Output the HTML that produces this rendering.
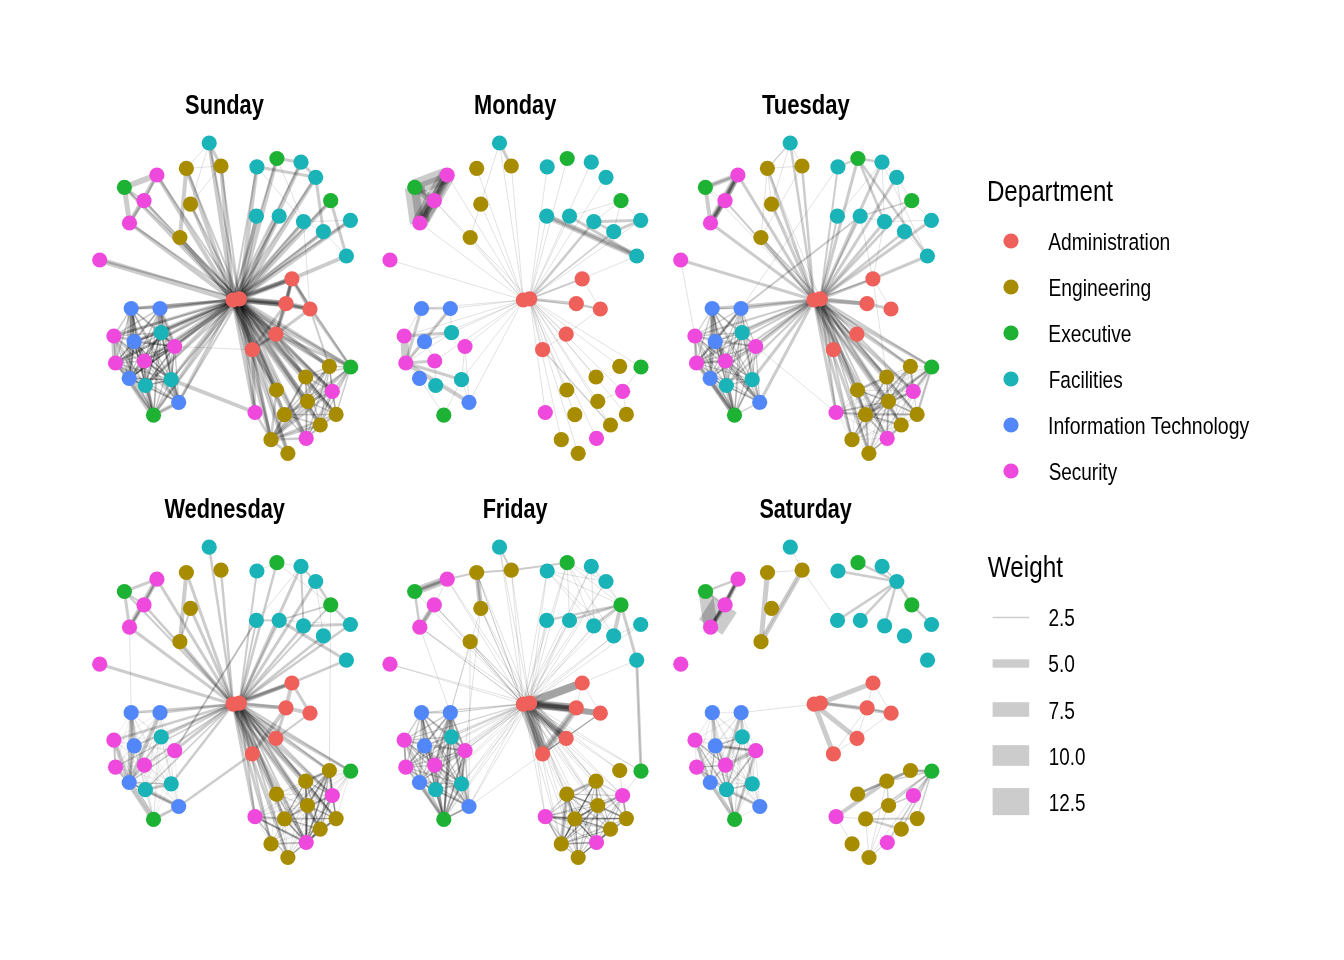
<!DOCTYPE html><html><head><meta charset="utf-8"><title>Network by weekday</title><style>html,body{margin:0;padding:0;background:#fff;width:1344px;height:960px;overflow:hidden}svg{display:block}text{font-family:"Liberation Sans",sans-serif;fill:#000}svg{will-change:transform}</style></head><body>
<svg width="1344" height="960" viewBox="0 0 1344 960">
<rect width="1344" height="960" fill="#fff"/>
<g>
<g stroke="#000" stroke-opacity="0.2" stroke-linecap="butt">
<line x1="209.2" y1="143" x2="221" y2="166" stroke-width="3"/>
<line x1="209.2" y1="143" x2="186.4" y2="168.3" stroke-width="0.6"/>
<line x1="209.2" y1="143" x2="190.5" y2="204.2" stroke-width="0.6"/>
<line x1="221" y1="166" x2="186.4" y2="168.3" stroke-width="0.6"/>
<line x1="221" y1="166" x2="190.5" y2="204.2" stroke-width="0.6"/>
<line x1="186.4" y1="168.3" x2="179.9" y2="237.5" stroke-width="4"/>
<line x1="156.9" y1="175" x2="124.4" y2="187.3" stroke-width="6"/>
<line x1="156.9" y1="175" x2="129.5" y2="223" stroke-width="4"/>
<line x1="156.9" y1="175" x2="144" y2="200.7" stroke-width="2"/>
<line x1="124.4" y1="187.3" x2="129.5" y2="223" stroke-width="5"/>
<line x1="124.4" y1="187.3" x2="144" y2="200.7" stroke-width="2"/>
<line x1="144" y1="200.7" x2="129.5" y2="223" stroke-width="3"/>
<line x1="233" y1="300" x2="209.2" y2="143" stroke-width="4"/>
<line x1="239.4" y1="298.9" x2="209.2" y2="143" stroke-width="2"/>
<line x1="233" y1="300" x2="221" y2="166" stroke-width="4"/>
<line x1="239.4" y1="298.9" x2="221" y2="166" stroke-width="2"/>
<line x1="233" y1="300" x2="186.4" y2="168.3" stroke-width="4"/>
<line x1="239.4" y1="298.9" x2="186.4" y2="168.3" stroke-width="2"/>
<line x1="233" y1="300" x2="156.9" y2="175" stroke-width="4"/>
<line x1="239.4" y1="298.9" x2="156.9" y2="175" stroke-width="2"/>
<line x1="233" y1="300" x2="124.4" y2="187.3" stroke-width="3"/>
<line x1="239.4" y1="298.9" x2="124.4" y2="187.3" stroke-width="1.5"/>
<line x1="233" y1="300" x2="144" y2="200.7" stroke-width="3"/>
<line x1="239.4" y1="298.9" x2="144" y2="200.7" stroke-width="1.5"/>
<line x1="233" y1="300" x2="190.5" y2="204.2" stroke-width="3"/>
<line x1="239.4" y1="298.9" x2="190.5" y2="204.2" stroke-width="2"/>
<line x1="233" y1="300" x2="129.5" y2="223" stroke-width="4"/>
<line x1="239.4" y1="298.9" x2="129.5" y2="223" stroke-width="2"/>
<line x1="233" y1="300" x2="179.9" y2="237.5" stroke-width="4"/>
<line x1="239.4" y1="298.9" x2="179.9" y2="237.5" stroke-width="2"/>
<line x1="233" y1="300" x2="99.7" y2="260" stroke-width="6"/>
<line x1="239.4" y1="298.9" x2="99.7" y2="260" stroke-width="2"/>
<line x1="256.9" y1="166.8" x2="315.7" y2="177.3" stroke-width="3"/>
<line x1="276.9" y1="158.5" x2="301" y2="162.2" stroke-width="3"/>
<line x1="301" y1="162.2" x2="315.7" y2="177.3" stroke-width="3"/>
<line x1="276.9" y1="158.5" x2="303.5" y2="221.7" stroke-width="0.6"/>
<line x1="256.9" y1="166.8" x2="303.5" y2="221.7" stroke-width="0.6"/>
<line x1="315.7" y1="177.3" x2="323.4" y2="231.7" stroke-width="3"/>
<line x1="330.7" y1="200.7" x2="346.4" y2="256" stroke-width="3"/>
<line x1="303.5" y1="221.7" x2="350.4" y2="220.3" stroke-width="0.6"/>
<line x1="303.5" y1="221.7" x2="323.4" y2="231.7" stroke-width="0.6"/>
<line x1="303.5" y1="221.7" x2="310" y2="309" stroke-width="0.6"/>
<line x1="323.4" y1="231.7" x2="346.4" y2="256" stroke-width="0.6"/>
<line x1="346.4" y1="256" x2="291.9" y2="278.8" stroke-width="4"/>
<line x1="233" y1="300" x2="256.9" y2="166.8" stroke-width="2"/>
<line x1="239.4" y1="298.9" x2="256.9" y2="166.8" stroke-width="4"/>
<line x1="233" y1="300" x2="276.9" y2="158.5" stroke-width="2"/>
<line x1="239.4" y1="298.9" x2="276.9" y2="158.5" stroke-width="4"/>
<line x1="233" y1="300" x2="301" y2="162.2" stroke-width="2"/>
<line x1="239.4" y1="298.9" x2="301" y2="162.2" stroke-width="4"/>
<line x1="233" y1="300" x2="315.7" y2="177.3" stroke-width="2"/>
<line x1="239.4" y1="298.9" x2="315.7" y2="177.3" stroke-width="4"/>
<line x1="233" y1="300" x2="330.7" y2="200.7" stroke-width="2"/>
<line x1="239.4" y1="298.9" x2="330.7" y2="200.7" stroke-width="4"/>
<line x1="233" y1="300" x2="256.4" y2="216.2" stroke-width="2"/>
<line x1="239.4" y1="298.9" x2="256.4" y2="216.2" stroke-width="4"/>
<line x1="233" y1="300" x2="279.2" y2="216.2" stroke-width="2"/>
<line x1="239.4" y1="298.9" x2="279.2" y2="216.2" stroke-width="4"/>
<line x1="233" y1="300" x2="303.5" y2="221.7" stroke-width="2"/>
<line x1="239.4" y1="298.9" x2="303.5" y2="221.7" stroke-width="4"/>
<line x1="233" y1="300" x2="350.4" y2="220.3" stroke-width="2"/>
<line x1="239.4" y1="298.9" x2="350.4" y2="220.3" stroke-width="4"/>
<line x1="233" y1="300" x2="323.4" y2="231.7" stroke-width="2"/>
<line x1="239.4" y1="298.9" x2="323.4" y2="231.7" stroke-width="4"/>
<line x1="233" y1="300" x2="291.9" y2="278.8" stroke-width="5"/>
<line x1="239.4" y1="298.9" x2="291.9" y2="278.8" stroke-width="5"/>
<line x1="233" y1="300" x2="291.9" y2="278.8" stroke-width="3"/>
<line x1="239.4" y1="298.9" x2="291.9" y2="278.8" stroke-width="2"/>
<line x1="233" y1="300" x2="286" y2="303.7" stroke-width="6"/>
<line x1="239.4" y1="298.9" x2="286" y2="303.7" stroke-width="6"/>
<line x1="233" y1="300" x2="286" y2="303.7" stroke-width="3"/>
<line x1="239.4" y1="298.9" x2="286" y2="303.7" stroke-width="3"/>
<line x1="233" y1="300" x2="286" y2="303.7" stroke-width="2"/>
<line x1="233" y1="300" x2="310" y2="309" stroke-width="3"/>
<line x1="291.9" y1="278.8" x2="286" y2="303.7" stroke-width="4"/>
<line x1="291.9" y1="278.8" x2="286" y2="303.7" stroke-width="2"/>
<line x1="291.9" y1="278.8" x2="310" y2="309" stroke-width="4"/>
<line x1="286" y1="303.7" x2="310" y2="309" stroke-width="5"/>
<line x1="286" y1="303.7" x2="310" y2="309" stroke-width="3"/>
<line x1="286" y1="303.7" x2="310" y2="309" stroke-width="2"/>
<line x1="233" y1="300" x2="275.9" y2="334.2" stroke-width="4"/>
<line x1="239.4" y1="298.9" x2="275.9" y2="334.2" stroke-width="3"/>
<line x1="233" y1="300" x2="275.9" y2="334.2" stroke-width="2"/>
<line x1="233" y1="300" x2="252.3" y2="349.7" stroke-width="5"/>
<line x1="239.4" y1="298.9" x2="252.3" y2="349.7" stroke-width="3"/>
<line x1="233" y1="300" x2="252.3" y2="349.7" stroke-width="2"/>
<line x1="286" y1="303.7" x2="275.9" y2="334.2" stroke-width="4"/>
<line x1="286" y1="303.7" x2="275.9" y2="334.2" stroke-width="2"/>
<line x1="310" y1="309" x2="275.9" y2="334.2" stroke-width="3"/>
<line x1="275.9" y1="334.2" x2="252.3" y2="349.7" stroke-width="3"/>
<line x1="275.9" y1="334.2" x2="252.3" y2="349.7" stroke-width="2"/>
<line x1="291.9" y1="278.8" x2="275.9" y2="334.2" stroke-width="3"/>
<line x1="291.9" y1="278.8" x2="286" y2="303.7" stroke-width="3"/>
<line x1="286" y1="303.7" x2="252.3" y2="349.7" stroke-width="3"/>
<line x1="310" y1="309" x2="291.9" y2="278.8" stroke-width="2"/>
<line x1="131.2" y1="308.5" x2="160" y2="308.5" stroke-width="1.5"/>
<line x1="131.2" y1="308.5" x2="113.9" y2="336" stroke-width="1.5"/>
<line x1="131.2" y1="308.5" x2="161.2" y2="332.7" stroke-width="1.5"/>
<line x1="131.2" y1="308.5" x2="134.2" y2="341.7" stroke-width="1.5"/>
<line x1="131.2" y1="308.5" x2="174.7" y2="346.5" stroke-width="1.5"/>
<line x1="131.2" y1="308.5" x2="115.5" y2="363" stroke-width="1.5"/>
<line x1="131.2" y1="308.5" x2="144.4" y2="361" stroke-width="1.5"/>
<line x1="131.2" y1="308.5" x2="129.2" y2="378.3" stroke-width="1.5"/>
<line x1="131.2" y1="308.5" x2="171.2" y2="379.7" stroke-width="1.5"/>
<line x1="131.2" y1="308.5" x2="145.4" y2="385.5" stroke-width="1.5"/>
<line x1="131.2" y1="308.5" x2="178.7" y2="402.3" stroke-width="1.5"/>
<line x1="131.2" y1="308.5" x2="153.5" y2="415.2" stroke-width="1.5"/>
<line x1="160" y1="308.5" x2="113.9" y2="336" stroke-width="1.5"/>
<line x1="160" y1="308.5" x2="161.2" y2="332.7" stroke-width="1.5"/>
<line x1="160" y1="308.5" x2="134.2" y2="341.7" stroke-width="1.5"/>
<line x1="160" y1="308.5" x2="174.7" y2="346.5" stroke-width="1.5"/>
<line x1="160" y1="308.5" x2="115.5" y2="363" stroke-width="1.5"/>
<line x1="160" y1="308.5" x2="144.4" y2="361" stroke-width="1.5"/>
<line x1="160" y1="308.5" x2="129.2" y2="378.3" stroke-width="1.5"/>
<line x1="160" y1="308.5" x2="171.2" y2="379.7" stroke-width="1.5"/>
<line x1="160" y1="308.5" x2="145.4" y2="385.5" stroke-width="1.5"/>
<line x1="160" y1="308.5" x2="178.7" y2="402.3" stroke-width="1.5"/>
<line x1="160" y1="308.5" x2="153.5" y2="415.2" stroke-width="1.5"/>
<line x1="113.9" y1="336" x2="161.2" y2="332.7" stroke-width="1.5"/>
<line x1="113.9" y1="336" x2="134.2" y2="341.7" stroke-width="1.5"/>
<line x1="113.9" y1="336" x2="174.7" y2="346.5" stroke-width="1.5"/>
<line x1="113.9" y1="336" x2="115.5" y2="363" stroke-width="1.5"/>
<line x1="113.9" y1="336" x2="144.4" y2="361" stroke-width="1.5"/>
<line x1="113.9" y1="336" x2="129.2" y2="378.3" stroke-width="1.5"/>
<line x1="113.9" y1="336" x2="171.2" y2="379.7" stroke-width="1.5"/>
<line x1="113.9" y1="336" x2="145.4" y2="385.5" stroke-width="1.5"/>
<line x1="113.9" y1="336" x2="178.7" y2="402.3" stroke-width="1.5"/>
<line x1="113.9" y1="336" x2="153.5" y2="415.2" stroke-width="1.5"/>
<line x1="161.2" y1="332.7" x2="134.2" y2="341.7" stroke-width="1.5"/>
<line x1="161.2" y1="332.7" x2="174.7" y2="346.5" stroke-width="1.5"/>
<line x1="161.2" y1="332.7" x2="115.5" y2="363" stroke-width="1.5"/>
<line x1="161.2" y1="332.7" x2="144.4" y2="361" stroke-width="1.5"/>
<line x1="161.2" y1="332.7" x2="129.2" y2="378.3" stroke-width="1.5"/>
<line x1="161.2" y1="332.7" x2="171.2" y2="379.7" stroke-width="1.5"/>
<line x1="161.2" y1="332.7" x2="145.4" y2="385.5" stroke-width="1.5"/>
<line x1="161.2" y1="332.7" x2="178.7" y2="402.3" stroke-width="1.5"/>
<line x1="161.2" y1="332.7" x2="153.5" y2="415.2" stroke-width="1.5"/>
<line x1="134.2" y1="341.7" x2="174.7" y2="346.5" stroke-width="1.5"/>
<line x1="134.2" y1="341.7" x2="115.5" y2="363" stroke-width="1.5"/>
<line x1="134.2" y1="341.7" x2="144.4" y2="361" stroke-width="1.5"/>
<line x1="134.2" y1="341.7" x2="129.2" y2="378.3" stroke-width="1.5"/>
<line x1="134.2" y1="341.7" x2="171.2" y2="379.7" stroke-width="1.5"/>
<line x1="134.2" y1="341.7" x2="145.4" y2="385.5" stroke-width="1.5"/>
<line x1="134.2" y1="341.7" x2="178.7" y2="402.3" stroke-width="1.5"/>
<line x1="134.2" y1="341.7" x2="153.5" y2="415.2" stroke-width="1.5"/>
<line x1="174.7" y1="346.5" x2="115.5" y2="363" stroke-width="1.5"/>
<line x1="174.7" y1="346.5" x2="144.4" y2="361" stroke-width="1.5"/>
<line x1="174.7" y1="346.5" x2="129.2" y2="378.3" stroke-width="1.5"/>
<line x1="174.7" y1="346.5" x2="171.2" y2="379.7" stroke-width="1.5"/>
<line x1="174.7" y1="346.5" x2="145.4" y2="385.5" stroke-width="1.5"/>
<line x1="174.7" y1="346.5" x2="178.7" y2="402.3" stroke-width="1.5"/>
<line x1="174.7" y1="346.5" x2="153.5" y2="415.2" stroke-width="1.5"/>
<line x1="115.5" y1="363" x2="144.4" y2="361" stroke-width="1.5"/>
<line x1="115.5" y1="363" x2="129.2" y2="378.3" stroke-width="1.5"/>
<line x1="115.5" y1="363" x2="171.2" y2="379.7" stroke-width="1.5"/>
<line x1="115.5" y1="363" x2="145.4" y2="385.5" stroke-width="1.5"/>
<line x1="115.5" y1="363" x2="178.7" y2="402.3" stroke-width="1.5"/>
<line x1="115.5" y1="363" x2="153.5" y2="415.2" stroke-width="1.5"/>
<line x1="144.4" y1="361" x2="129.2" y2="378.3" stroke-width="1.5"/>
<line x1="144.4" y1="361" x2="171.2" y2="379.7" stroke-width="1.5"/>
<line x1="144.4" y1="361" x2="145.4" y2="385.5" stroke-width="1.5"/>
<line x1="144.4" y1="361" x2="178.7" y2="402.3" stroke-width="1.5"/>
<line x1="144.4" y1="361" x2="153.5" y2="415.2" stroke-width="1.5"/>
<line x1="129.2" y1="378.3" x2="171.2" y2="379.7" stroke-width="1.5"/>
<line x1="129.2" y1="378.3" x2="145.4" y2="385.5" stroke-width="1.5"/>
<line x1="129.2" y1="378.3" x2="178.7" y2="402.3" stroke-width="1.5"/>
<line x1="129.2" y1="378.3" x2="153.5" y2="415.2" stroke-width="1.5"/>
<line x1="171.2" y1="379.7" x2="145.4" y2="385.5" stroke-width="1.5"/>
<line x1="171.2" y1="379.7" x2="178.7" y2="402.3" stroke-width="1.5"/>
<line x1="171.2" y1="379.7" x2="153.5" y2="415.2" stroke-width="1.5"/>
<line x1="145.4" y1="385.5" x2="178.7" y2="402.3" stroke-width="1.5"/>
<line x1="145.4" y1="385.5" x2="153.5" y2="415.2" stroke-width="1.5"/>
<line x1="178.7" y1="402.3" x2="153.5" y2="415.2" stroke-width="1.5"/>
<line x1="161.2" y1="332.7" x2="134.2" y2="341.7" stroke-width="1.5"/>
<line x1="161.2" y1="332.7" x2="174.7" y2="346.5" stroke-width="1.5"/>
<line x1="161.2" y1="332.7" x2="144.4" y2="361" stroke-width="1.5"/>
<line x1="161.2" y1="332.7" x2="171.2" y2="379.7" stroke-width="1.5"/>
<line x1="161.2" y1="332.7" x2="145.4" y2="385.5" stroke-width="1.5"/>
<line x1="161.2" y1="332.7" x2="129.2" y2="378.3" stroke-width="1.5"/>
<line x1="134.2" y1="341.7" x2="174.7" y2="346.5" stroke-width="1.5"/>
<line x1="134.2" y1="341.7" x2="144.4" y2="361" stroke-width="1.5"/>
<line x1="134.2" y1="341.7" x2="171.2" y2="379.7" stroke-width="1.5"/>
<line x1="134.2" y1="341.7" x2="145.4" y2="385.5" stroke-width="1.5"/>
<line x1="134.2" y1="341.7" x2="129.2" y2="378.3" stroke-width="1.5"/>
<line x1="174.7" y1="346.5" x2="144.4" y2="361" stroke-width="1.5"/>
<line x1="174.7" y1="346.5" x2="171.2" y2="379.7" stroke-width="1.5"/>
<line x1="174.7" y1="346.5" x2="145.4" y2="385.5" stroke-width="1.5"/>
<line x1="174.7" y1="346.5" x2="129.2" y2="378.3" stroke-width="1.5"/>
<line x1="144.4" y1="361" x2="171.2" y2="379.7" stroke-width="1.5"/>
<line x1="144.4" y1="361" x2="145.4" y2="385.5" stroke-width="1.5"/>
<line x1="144.4" y1="361" x2="129.2" y2="378.3" stroke-width="1.5"/>
<line x1="171.2" y1="379.7" x2="145.4" y2="385.5" stroke-width="1.5"/>
<line x1="171.2" y1="379.7" x2="129.2" y2="378.3" stroke-width="1.5"/>
<line x1="145.4" y1="385.5" x2="129.2" y2="378.3" stroke-width="1.5"/>
<line x1="233" y1="300" x2="131.2" y2="308.5" stroke-width="3"/>
<line x1="239.4" y1="298.9" x2="131.2" y2="308.5" stroke-width="2"/>
<line x1="233" y1="300" x2="160" y2="308.5" stroke-width="3"/>
<line x1="239.4" y1="298.9" x2="160" y2="308.5" stroke-width="2"/>
<line x1="233" y1="300" x2="113.9" y2="336" stroke-width="3"/>
<line x1="239.4" y1="298.9" x2="113.9" y2="336" stroke-width="2"/>
<line x1="233" y1="300" x2="161.2" y2="332.7" stroke-width="3"/>
<line x1="239.4" y1="298.9" x2="161.2" y2="332.7" stroke-width="2"/>
<line x1="233" y1="300" x2="134.2" y2="341.7" stroke-width="3"/>
<line x1="239.4" y1="298.9" x2="134.2" y2="341.7" stroke-width="2"/>
<line x1="233" y1="300" x2="174.7" y2="346.5" stroke-width="3"/>
<line x1="239.4" y1="298.9" x2="174.7" y2="346.5" stroke-width="2"/>
<line x1="233" y1="300" x2="115.5" y2="363" stroke-width="3"/>
<line x1="239.4" y1="298.9" x2="115.5" y2="363" stroke-width="2"/>
<line x1="233" y1="300" x2="144.4" y2="361" stroke-width="3"/>
<line x1="239.4" y1="298.9" x2="144.4" y2="361" stroke-width="2"/>
<line x1="233" y1="300" x2="129.2" y2="378.3" stroke-width="3"/>
<line x1="239.4" y1="298.9" x2="129.2" y2="378.3" stroke-width="2"/>
<line x1="233" y1="300" x2="171.2" y2="379.7" stroke-width="3"/>
<line x1="239.4" y1="298.9" x2="171.2" y2="379.7" stroke-width="2"/>
<line x1="233" y1="300" x2="145.4" y2="385.5" stroke-width="3"/>
<line x1="239.4" y1="298.9" x2="145.4" y2="385.5" stroke-width="2"/>
<line x1="233" y1="300" x2="178.7" y2="402.3" stroke-width="3"/>
<line x1="239.4" y1="298.9" x2="178.7" y2="402.3" stroke-width="2"/>
<line x1="233" y1="300" x2="153.5" y2="415.2" stroke-width="3"/>
<line x1="239.4" y1="298.9" x2="153.5" y2="415.2" stroke-width="2"/>
<line x1="131.2" y1="308.5" x2="129.2" y2="378.3" stroke-width="7"/>
<line x1="113.9" y1="336" x2="115.5" y2="363" stroke-width="6"/>
<line x1="129.2" y1="378.3" x2="153.5" y2="415.2" stroke-width="7"/>
<line x1="145.4" y1="385.5" x2="153.5" y2="415.2" stroke-width="5"/>
<line x1="160" y1="308.5" x2="161.2" y2="332.7" stroke-width="5"/>
<line x1="160" y1="308.5" x2="174.7" y2="346.5" stroke-width="4"/>
<line x1="178.7" y1="402.3" x2="153.5" y2="415.2" stroke-width="4"/>
<line x1="171.2" y1="379.7" x2="178.7" y2="402.3" stroke-width="4"/>
<line x1="131.2" y1="308.5" x2="134.2" y2="341.7" stroke-width="5"/>
<line x1="161.2" y1="332.7" x2="174.7" y2="346.5" stroke-width="4"/>
<line x1="115.5" y1="363" x2="129.2" y2="378.3" stroke-width="4"/>
<line x1="171.2" y1="379.7" x2="255" y2="412.5" stroke-width="4"/>
<line x1="174.7" y1="346.5" x2="252.3" y2="349.7" stroke-width="0.6"/>
<line x1="233" y1="300" x2="329.4" y2="366.3" stroke-width="4"/>
<line x1="239.4" y1="298.9" x2="329.4" y2="366.3" stroke-width="3"/>
<line x1="233" y1="300" x2="350.7" y2="367" stroke-width="4"/>
<line x1="239.4" y1="298.9" x2="350.7" y2="367" stroke-width="3"/>
<line x1="233" y1="300" x2="305.7" y2="377" stroke-width="4"/>
<line x1="239.4" y1="298.9" x2="305.7" y2="377" stroke-width="3"/>
<line x1="233" y1="300" x2="276.5" y2="390" stroke-width="4"/>
<line x1="239.4" y1="298.9" x2="276.5" y2="390" stroke-width="3"/>
<line x1="233" y1="300" x2="332.3" y2="391.3" stroke-width="4"/>
<line x1="239.4" y1="298.9" x2="332.3" y2="391.3" stroke-width="3"/>
<line x1="233" y1="300" x2="307.5" y2="401.3" stroke-width="4"/>
<line x1="239.4" y1="298.9" x2="307.5" y2="401.3" stroke-width="3"/>
<line x1="233" y1="300" x2="255" y2="412.5" stroke-width="4"/>
<line x1="239.4" y1="298.9" x2="255" y2="412.5" stroke-width="3"/>
<line x1="233" y1="300" x2="284.5" y2="414.7" stroke-width="4"/>
<line x1="239.4" y1="298.9" x2="284.5" y2="414.7" stroke-width="3"/>
<line x1="233" y1="300" x2="336.1" y2="414.4" stroke-width="4"/>
<line x1="239.4" y1="298.9" x2="336.1" y2="414.4" stroke-width="3"/>
<line x1="233" y1="300" x2="320.2" y2="425" stroke-width="4"/>
<line x1="239.4" y1="298.9" x2="320.2" y2="425" stroke-width="3"/>
<line x1="233" y1="300" x2="271" y2="439.7" stroke-width="4"/>
<line x1="239.4" y1="298.9" x2="271" y2="439.7" stroke-width="3"/>
<line x1="233" y1="300" x2="306.2" y2="438.3" stroke-width="4"/>
<line x1="239.4" y1="298.9" x2="306.2" y2="438.3" stroke-width="3"/>
<line x1="233" y1="300" x2="287.9" y2="453.3" stroke-width="4"/>
<line x1="239.4" y1="298.9" x2="287.9" y2="453.3" stroke-width="3"/>
<line x1="271" y1="439.7" x2="329.4" y2="366.3" stroke-width="2.5"/>
<line x1="271" y1="439.7" x2="350.7" y2="367" stroke-width="2.5"/>
<line x1="271" y1="439.7" x2="305.7" y2="377" stroke-width="2.5"/>
<line x1="271" y1="439.7" x2="276.5" y2="390" stroke-width="2.5"/>
<line x1="271" y1="439.7" x2="332.3" y2="391.3" stroke-width="2.5"/>
<line x1="271" y1="439.7" x2="307.5" y2="401.3" stroke-width="2.5"/>
<line x1="271" y1="439.7" x2="255" y2="412.5" stroke-width="2.5"/>
<line x1="271" y1="439.7" x2="284.5" y2="414.7" stroke-width="2.5"/>
<line x1="271" y1="439.7" x2="336.1" y2="414.4" stroke-width="2.5"/>
<line x1="271" y1="439.7" x2="320.2" y2="425" stroke-width="2.5"/>
<line x1="271" y1="439.7" x2="306.2" y2="438.3" stroke-width="2.5"/>
<line x1="271" y1="439.7" x2="287.9" y2="453.3" stroke-width="2.5"/>
<line x1="329.4" y1="366.3" x2="350.7" y2="367" stroke-width="1.5"/>
<line x1="329.4" y1="366.3" x2="305.7" y2="377" stroke-width="1.5"/>
<line x1="329.4" y1="366.3" x2="332.3" y2="391.3" stroke-width="1.5"/>
<line x1="329.4" y1="366.3" x2="307.5" y2="401.3" stroke-width="1.5"/>
<line x1="329.4" y1="366.3" x2="284.5" y2="414.7" stroke-width="1.5"/>
<line x1="329.4" y1="366.3" x2="336.1" y2="414.4" stroke-width="1.5"/>
<line x1="329.4" y1="366.3" x2="320.2" y2="425" stroke-width="1.5"/>
<line x1="329.4" y1="366.3" x2="306.2" y2="438.3" stroke-width="1.5"/>
<line x1="350.7" y1="367" x2="305.7" y2="377" stroke-width="1.5"/>
<line x1="350.7" y1="367" x2="332.3" y2="391.3" stroke-width="1.5"/>
<line x1="350.7" y1="367" x2="307.5" y2="401.3" stroke-width="1.5"/>
<line x1="350.7" y1="367" x2="284.5" y2="414.7" stroke-width="1.5"/>
<line x1="350.7" y1="367" x2="336.1" y2="414.4" stroke-width="1.5"/>
<line x1="350.7" y1="367" x2="320.2" y2="425" stroke-width="1.5"/>
<line x1="350.7" y1="367" x2="306.2" y2="438.3" stroke-width="1.5"/>
<line x1="305.7" y1="377" x2="332.3" y2="391.3" stroke-width="1.5"/>
<line x1="305.7" y1="377" x2="307.5" y2="401.3" stroke-width="1.5"/>
<line x1="305.7" y1="377" x2="284.5" y2="414.7" stroke-width="1.5"/>
<line x1="305.7" y1="377" x2="336.1" y2="414.4" stroke-width="1.5"/>
<line x1="305.7" y1="377" x2="320.2" y2="425" stroke-width="1.5"/>
<line x1="305.7" y1="377" x2="306.2" y2="438.3" stroke-width="1.5"/>
<line x1="332.3" y1="391.3" x2="307.5" y2="401.3" stroke-width="1.5"/>
<line x1="332.3" y1="391.3" x2="284.5" y2="414.7" stroke-width="1.5"/>
<line x1="332.3" y1="391.3" x2="336.1" y2="414.4" stroke-width="1.5"/>
<line x1="332.3" y1="391.3" x2="320.2" y2="425" stroke-width="1.5"/>
<line x1="332.3" y1="391.3" x2="306.2" y2="438.3" stroke-width="1.5"/>
<line x1="307.5" y1="401.3" x2="284.5" y2="414.7" stroke-width="1.5"/>
<line x1="307.5" y1="401.3" x2="336.1" y2="414.4" stroke-width="1.5"/>
<line x1="307.5" y1="401.3" x2="320.2" y2="425" stroke-width="1.5"/>
<line x1="307.5" y1="401.3" x2="306.2" y2="438.3" stroke-width="1.5"/>
<line x1="284.5" y1="414.7" x2="336.1" y2="414.4" stroke-width="1.5"/>
<line x1="284.5" y1="414.7" x2="320.2" y2="425" stroke-width="1.5"/>
<line x1="284.5" y1="414.7" x2="306.2" y2="438.3" stroke-width="1.5"/>
<line x1="336.1" y1="414.4" x2="320.2" y2="425" stroke-width="1.5"/>
<line x1="336.1" y1="414.4" x2="306.2" y2="438.3" stroke-width="1.5"/>
<line x1="320.2" y1="425" x2="306.2" y2="438.3" stroke-width="1.5"/>
<line x1="252.3" y1="349.7" x2="255" y2="412.5" stroke-width="3"/>
<line x1="252.3" y1="349.7" x2="271" y2="439.7" stroke-width="3"/>
<line x1="252.3" y1="349.7" x2="276.5" y2="390" stroke-width="2.5"/>
<line x1="275.9" y1="334.2" x2="329.4" y2="366.3" stroke-width="3"/>
<line x1="275.9" y1="334.2" x2="350.7" y2="367" stroke-width="3"/>
<line x1="275.9" y1="334.2" x2="305.7" y2="377" stroke-width="2.5"/>
<line x1="275.9" y1="334.2" x2="332.3" y2="391.3" stroke-width="2.5"/>
<line x1="291.9" y1="278.8" x2="350.7" y2="367" stroke-width="2"/>
<line x1="310" y1="309" x2="350.7" y2="367" stroke-width="3"/>
<line x1="310" y1="309" x2="329.4" y2="366.3" stroke-width="2"/>
</g>
<circle cx="209.2" cy="143" r="7.6" fill="#1AB3B8"/>
<circle cx="221" cy="166" r="7.6" fill="#A88C00"/>
<circle cx="186.4" cy="168.3" r="7.6" fill="#A88C00"/>
<circle cx="156.9" cy="175" r="7.6" fill="#EE48DD"/>
<circle cx="124.4" cy="187.3" r="7.6" fill="#1DB233"/>
<circle cx="144" cy="200.7" r="7.6" fill="#EE48DD"/>
<circle cx="190.5" cy="204.2" r="7.6" fill="#A88C00"/>
<circle cx="129.5" cy="223" r="7.6" fill="#EE48DD"/>
<circle cx="179.9" cy="237.5" r="7.6" fill="#A88C00"/>
<circle cx="99.7" cy="260" r="7.6" fill="#EE48DD"/>
<circle cx="256.9" cy="166.8" r="7.6" fill="#1AB3B8"/>
<circle cx="276.9" cy="158.5" r="7.6" fill="#1DB233"/>
<circle cx="301" cy="162.2" r="7.6" fill="#1AB3B8"/>
<circle cx="315.7" cy="177.3" r="7.6" fill="#1AB3B8"/>
<circle cx="330.7" cy="200.7" r="7.6" fill="#1DB233"/>
<circle cx="256.4" cy="216.2" r="7.6" fill="#1AB3B8"/>
<circle cx="279.2" cy="216.2" r="7.6" fill="#1AB3B8"/>
<circle cx="303.5" cy="221.7" r="7.6" fill="#1AB3B8"/>
<circle cx="350.4" cy="220.3" r="7.6" fill="#1AB3B8"/>
<circle cx="323.4" cy="231.7" r="7.6" fill="#1AB3B8"/>
<circle cx="346.4" cy="256" r="7.6" fill="#1AB3B8"/>
<circle cx="233" cy="300" r="7.6" fill="#F0605A"/>
<circle cx="239.4" cy="298.9" r="7.6" fill="#F0605A"/>
<circle cx="291.9" cy="278.8" r="7.6" fill="#F0605A"/>
<circle cx="286" cy="303.7" r="7.6" fill="#F0605A"/>
<circle cx="310" cy="309" r="7.6" fill="#F0605A"/>
<circle cx="275.9" cy="334.2" r="7.6" fill="#F0605A"/>
<circle cx="252.3" cy="349.7" r="7.6" fill="#F0605A"/>
<circle cx="329.4" cy="366.3" r="7.6" fill="#A88C00"/>
<circle cx="350.7" cy="367" r="7.6" fill="#1DB233"/>
<circle cx="305.7" cy="377" r="7.6" fill="#A88C00"/>
<circle cx="276.5" cy="390" r="7.6" fill="#A88C00"/>
<circle cx="332.3" cy="391.3" r="7.6" fill="#EE48DD"/>
<circle cx="307.5" cy="401.3" r="7.6" fill="#A88C00"/>
<circle cx="255" cy="412.5" r="7.6" fill="#EE48DD"/>
<circle cx="284.5" cy="414.7" r="7.6" fill="#A88C00"/>
<circle cx="336.1" cy="414.4" r="7.6" fill="#A88C00"/>
<circle cx="320.2" cy="425" r="7.6" fill="#A88C00"/>
<circle cx="271" cy="439.7" r="7.6" fill="#A88C00"/>
<circle cx="306.2" cy="438.3" r="7.6" fill="#EE48DD"/>
<circle cx="287.9" cy="453.3" r="7.6" fill="#A88C00"/>
<circle cx="131.2" cy="308.5" r="7.6" fill="#5287FA"/>
<circle cx="160" cy="308.5" r="7.6" fill="#5287FA"/>
<circle cx="113.9" cy="336" r="7.6" fill="#EE48DD"/>
<circle cx="161.2" cy="332.7" r="7.6" fill="#1AB3B8"/>
<circle cx="134.2" cy="341.7" r="7.6" fill="#5287FA"/>
<circle cx="174.7" cy="346.5" r="7.6" fill="#EE48DD"/>
<circle cx="115.5" cy="363" r="7.6" fill="#EE48DD"/>
<circle cx="144.4" cy="361" r="7.6" fill="#EE48DD"/>
<circle cx="129.2" cy="378.3" r="7.6" fill="#5287FA"/>
<circle cx="171.2" cy="379.7" r="7.6" fill="#1AB3B8"/>
<circle cx="145.4" cy="385.5" r="7.6" fill="#1AB3B8"/>
<circle cx="178.7" cy="402.3" r="7.6" fill="#5287FA"/>
<circle cx="153.5" cy="415.2" r="7.6" fill="#1DB233"/>
<text x="185.12" y="113.8" font-size="27" font-weight="bold" textLength="78.73" lengthAdjust="spacingAndGlyphs">Sunday</text>
</g>
<g>
<g stroke="#000" stroke-opacity="0.2" stroke-linecap="butt">
<line x1="414.7" y1="187.3" x2="419.8" y2="223" stroke-width="20"/>
<line x1="414.7" y1="187.3" x2="419.8" y2="223" stroke-width="8"/>
<line x1="447.2" y1="175" x2="419.8" y2="223" stroke-width="16"/>
<line x1="447.2" y1="175" x2="419.8" y2="223" stroke-width="8"/>
<line x1="447.2" y1="175" x2="419.8" y2="223" stroke-width="3"/>
<line x1="447.2" y1="175" x2="414.7" y2="187.3" stroke-width="16"/>
<line x1="447.2" y1="175" x2="414.7" y2="187.3" stroke-width="5"/>
<line x1="447.2" y1="175" x2="434.3" y2="200.7" stroke-width="10"/>
<line x1="447.2" y1="175" x2="434.3" y2="200.7" stroke-width="4"/>
<line x1="434.3" y1="200.7" x2="419.8" y2="223" stroke-width="12"/>
<line x1="434.3" y1="200.7" x2="419.8" y2="223" stroke-width="5"/>
<line x1="414.7" y1="187.3" x2="434.3" y2="200.7" stroke-width="8"/>
<line x1="414.7" y1="187.3" x2="434.3" y2="200.7" stroke-width="3"/>
<line x1="499.5" y1="143" x2="511.3" y2="166" stroke-width="3"/>
<line x1="499.5" y1="143" x2="470.2" y2="237.5" stroke-width="0.6"/>
<line x1="523.3" y1="300" x2="499.5" y2="143" stroke-width="0.6"/>
<line x1="523.3" y1="300" x2="511.3" y2="166" stroke-width="0.6"/>
<line x1="523.3" y1="300" x2="476.7" y2="168.3" stroke-width="0.6"/>
<line x1="523.3" y1="300" x2="447.2" y2="175" stroke-width="0.6"/>
<line x1="523.3" y1="300" x2="434.3" y2="200.7" stroke-width="0.6"/>
<line x1="529.7" y1="298.9" x2="434.3" y2="200.7" stroke-width="0.6"/>
<line x1="523.3" y1="300" x2="480.8" y2="204.2" stroke-width="0.6"/>
<line x1="523.3" y1="300" x2="419.8" y2="223" stroke-width="0.6"/>
<line x1="523.3" y1="300" x2="470.2" y2="237.5" stroke-width="0.6"/>
<line x1="523.3" y1="300" x2="390" y2="260" stroke-width="0.6"/>
<line x1="621" y1="200.7" x2="569.5" y2="216.2" stroke-width="0.6"/>
<line x1="621" y1="200.7" x2="640.7" y2="220.3" stroke-width="0.6"/>
<line x1="621" y1="200.7" x2="613.7" y2="231.7" stroke-width="0.6"/>
<line x1="621" y1="200.7" x2="593.8" y2="221.7" stroke-width="0.6"/>
<line x1="546.7" y1="216.2" x2="636.7" y2="256" stroke-width="6"/>
<line x1="546.7" y1="216.2" x2="636.7" y2="256" stroke-width="3"/>
<line x1="569.5" y1="216.2" x2="636.7" y2="256" stroke-width="3"/>
<line x1="593.8" y1="221.7" x2="640.7" y2="220.3" stroke-width="3"/>
<line x1="640.7" y1="220.3" x2="613.7" y2="231.7" stroke-width="3"/>
<line x1="636.7" y1="256" x2="582.2" y2="278.8" stroke-width="0.6"/>
<line x1="593.8" y1="221.7" x2="613.7" y2="231.7" stroke-width="2.5"/>
<line x1="529.7" y1="298.9" x2="547.2" y2="166.8" stroke-width="0.6"/>
<line x1="529.7" y1="298.9" x2="567.2" y2="158.5" stroke-width="0.6"/>
<line x1="529.7" y1="298.9" x2="591.3" y2="162.2" stroke-width="0.6"/>
<line x1="529.7" y1="298.9" x2="606" y2="177.3" stroke-width="0.6"/>
<line x1="529.7" y1="298.9" x2="546.7" y2="216.2" stroke-width="0.6"/>
<line x1="529.7" y1="298.9" x2="569.5" y2="216.2" stroke-width="0.6"/>
<line x1="529.7" y1="298.9" x2="593.8" y2="221.7" stroke-width="2.5"/>
<line x1="529.7" y1="298.9" x2="613.7" y2="231.7" stroke-width="1.5"/>
<line x1="529.7" y1="298.9" x2="640.7" y2="220.3" stroke-width="0.6"/>
<line x1="529.7" y1="298.9" x2="582.2" y2="278.8" stroke-width="2"/>
<line x1="529.7" y1="298.9" x2="576.3" y2="303.7" stroke-width="3"/>
<line x1="529.7" y1="298.9" x2="600.3" y2="309" stroke-width="0.6"/>
<line x1="529.7" y1="298.9" x2="566.2" y2="334.2" stroke-width="0.6"/>
<line x1="529.7" y1="298.9" x2="542.6" y2="349.7" stroke-width="0.6"/>
<line x1="576.3" y1="303.7" x2="600.3" y2="309" stroke-width="2"/>
<line x1="582.2" y1="278.8" x2="600.3" y2="309" stroke-width="0.6"/>
<line x1="600.3" y1="309" x2="566.2" y2="334.2" stroke-width="0.6"/>
<line x1="566.2" y1="334.2" x2="542.6" y2="349.7" stroke-width="0.6"/>
<line x1="542.6" y1="349.7" x2="610.5" y2="425" stroke-width="1.2"/>
<line x1="529.7" y1="298.9" x2="619.7" y2="366.3" stroke-width="0.6"/>
<line x1="529.7" y1="298.9" x2="641" y2="367" stroke-width="0.6"/>
<line x1="529.7" y1="298.9" x2="596" y2="377" stroke-width="0.6"/>
<line x1="529.7" y1="298.9" x2="566.8" y2="390" stroke-width="0.6"/>
<line x1="529.7" y1="298.9" x2="622.6" y2="391.3" stroke-width="0.6"/>
<line x1="529.7" y1="298.9" x2="597.8" y2="401.3" stroke-width="0.6"/>
<line x1="529.7" y1="298.9" x2="545.3" y2="412.5" stroke-width="0.6"/>
<line x1="529.7" y1="298.9" x2="574.8" y2="414.7" stroke-width="0.6"/>
<line x1="529.7" y1="298.9" x2="626.4" y2="414.4" stroke-width="0.6"/>
<line x1="529.7" y1="298.9" x2="610.5" y2="425" stroke-width="0.6"/>
<line x1="529.7" y1="298.9" x2="561.3" y2="439.7" stroke-width="0.6"/>
<line x1="529.7" y1="298.9" x2="596.5" y2="438.3" stroke-width="0.6"/>
<line x1="529.7" y1="298.9" x2="578.2" y2="453.3" stroke-width="0.6"/>
<line x1="641" y1="367" x2="622.6" y2="391.3" stroke-width="0.6"/>
<line x1="622.6" y1="391.3" x2="597.8" y2="401.3" stroke-width="0.6"/>
<line x1="622.6" y1="391.3" x2="626.4" y2="414.4" stroke-width="0.6"/>
<line x1="421.5" y1="308.5" x2="450.3" y2="308.5" stroke-width="2"/>
<line x1="421.5" y1="308.5" x2="404.2" y2="336" stroke-width="0.6"/>
<line x1="421.5" y1="308.5" x2="405.8" y2="363" stroke-width="3"/>
<line x1="450.3" y1="308.5" x2="405.8" y2="363" stroke-width="3"/>
<line x1="404.2" y1="336" x2="451.5" y2="332.7" stroke-width="3"/>
<line x1="404.2" y1="336" x2="405.8" y2="363" stroke-width="8"/>
<line x1="405.8" y1="363" x2="434.7" y2="361" stroke-width="3"/>
<line x1="405.8" y1="363" x2="461.5" y2="379.7" stroke-width="3"/>
<line x1="405.8" y1="363" x2="469" y2="402.3" stroke-width="4"/>
<line x1="405.8" y1="363" x2="451.5" y2="332.7" stroke-width="0.6"/>
<line x1="405.8" y1="363" x2="424.5" y2="341.7" stroke-width="0.6"/>
<line x1="405.8" y1="363" x2="419.5" y2="378.3" stroke-width="0.6"/>
<line x1="419.5" y1="378.3" x2="443.8" y2="415.2" stroke-width="0.6"/>
<line x1="443.8" y1="415.2" x2="461.5" y2="379.7" stroke-width="0.6"/>
<line x1="469" y1="402.3" x2="461.5" y2="379.7" stroke-width="0.6"/>
<line x1="469" y1="402.3" x2="465" y2="346.5" stroke-width="0.6"/>
<line x1="465" y1="346.5" x2="461.5" y2="379.7" stroke-width="0.6"/>
<line x1="451.5" y1="332.7" x2="424.5" y2="341.7" stroke-width="0.6"/>
<line x1="424.5" y1="341.7" x2="434.7" y2="361" stroke-width="0.6"/>
<line x1="434.7" y1="361" x2="435.7" y2="385.5" stroke-width="0.6"/>
<line x1="451.5" y1="332.7" x2="465" y2="346.5" stroke-width="0.6"/>
<line x1="450.3" y1="308.5" x2="451.5" y2="332.7" stroke-width="0.6"/>
<line x1="450.3" y1="308.5" x2="424.5" y2="341.7" stroke-width="0.6"/>
<line x1="523.3" y1="300" x2="421.5" y2="308.5" stroke-width="0.6"/>
<line x1="523.3" y1="300" x2="450.3" y2="308.5" stroke-width="0.6"/>
<line x1="523.3" y1="300" x2="451.5" y2="332.7" stroke-width="0.6"/>
<line x1="523.3" y1="300" x2="465" y2="346.5" stroke-width="0.6"/>
<line x1="523.3" y1="300" x2="434.7" y2="361" stroke-width="0.6"/>
<line x1="523.3" y1="300" x2="461.5" y2="379.7" stroke-width="0.6"/>
<line x1="523.3" y1="300" x2="469" y2="402.3" stroke-width="0.6"/>
<line x1="523.3" y1="300" x2="404.2" y2="336" stroke-width="0.6"/>
<line x1="523.3" y1="300" x2="424.5" y2="341.7" stroke-width="0.6"/>
</g>
<circle cx="499.5" cy="143" r="7.6" fill="#1AB3B8"/>
<circle cx="511.3" cy="166" r="7.6" fill="#A88C00"/>
<circle cx="476.7" cy="168.3" r="7.6" fill="#A88C00"/>
<circle cx="447.2" cy="175" r="7.6" fill="#EE48DD"/>
<circle cx="414.7" cy="187.3" r="7.6" fill="#1DB233"/>
<circle cx="434.3" cy="200.7" r="7.6" fill="#EE48DD"/>
<circle cx="480.8" cy="204.2" r="7.6" fill="#A88C00"/>
<circle cx="419.8" cy="223" r="7.6" fill="#EE48DD"/>
<circle cx="470.2" cy="237.5" r="7.6" fill="#A88C00"/>
<circle cx="390" cy="260" r="7.6" fill="#EE48DD"/>
<circle cx="547.2" cy="166.8" r="7.6" fill="#1AB3B8"/>
<circle cx="567.2" cy="158.5" r="7.6" fill="#1DB233"/>
<circle cx="591.3" cy="162.2" r="7.6" fill="#1AB3B8"/>
<circle cx="606" cy="177.3" r="7.6" fill="#1AB3B8"/>
<circle cx="621" cy="200.7" r="7.6" fill="#1DB233"/>
<circle cx="546.7" cy="216.2" r="7.6" fill="#1AB3B8"/>
<circle cx="569.5" cy="216.2" r="7.6" fill="#1AB3B8"/>
<circle cx="593.8" cy="221.7" r="7.6" fill="#1AB3B8"/>
<circle cx="640.7" cy="220.3" r="7.6" fill="#1AB3B8"/>
<circle cx="613.7" cy="231.7" r="7.6" fill="#1AB3B8"/>
<circle cx="636.7" cy="256" r="7.6" fill="#1AB3B8"/>
<circle cx="523.3" cy="300" r="7.6" fill="#F0605A"/>
<circle cx="529.7" cy="298.9" r="7.6" fill="#F0605A"/>
<circle cx="582.2" cy="278.8" r="7.6" fill="#F0605A"/>
<circle cx="576.3" cy="303.7" r="7.6" fill="#F0605A"/>
<circle cx="600.3" cy="309" r="7.6" fill="#F0605A"/>
<circle cx="566.2" cy="334.2" r="7.6" fill="#F0605A"/>
<circle cx="542.6" cy="349.7" r="7.6" fill="#F0605A"/>
<circle cx="619.7" cy="366.3" r="7.6" fill="#A88C00"/>
<circle cx="641" cy="367" r="7.6" fill="#1DB233"/>
<circle cx="596" cy="377" r="7.6" fill="#A88C00"/>
<circle cx="566.8" cy="390" r="7.6" fill="#A88C00"/>
<circle cx="622.6" cy="391.3" r="7.6" fill="#EE48DD"/>
<circle cx="597.8" cy="401.3" r="7.6" fill="#A88C00"/>
<circle cx="545.3" cy="412.5" r="7.6" fill="#EE48DD"/>
<circle cx="574.8" cy="414.7" r="7.6" fill="#A88C00"/>
<circle cx="626.4" cy="414.4" r="7.6" fill="#A88C00"/>
<circle cx="610.5" cy="425" r="7.6" fill="#A88C00"/>
<circle cx="561.3" cy="439.7" r="7.6" fill="#A88C00"/>
<circle cx="596.5" cy="438.3" r="7.6" fill="#EE48DD"/>
<circle cx="578.2" cy="453.3" r="7.6" fill="#A88C00"/>
<circle cx="421.5" cy="308.5" r="7.6" fill="#5287FA"/>
<circle cx="450.3" cy="308.5" r="7.6" fill="#5287FA"/>
<circle cx="404.2" cy="336" r="7.6" fill="#EE48DD"/>
<circle cx="451.5" cy="332.7" r="7.6" fill="#1AB3B8"/>
<circle cx="424.5" cy="341.7" r="7.6" fill="#5287FA"/>
<circle cx="465" cy="346.5" r="7.6" fill="#EE48DD"/>
<circle cx="405.8" cy="363" r="7.6" fill="#EE48DD"/>
<circle cx="434.7" cy="361" r="7.6" fill="#EE48DD"/>
<circle cx="419.5" cy="378.3" r="7.6" fill="#5287FA"/>
<circle cx="461.5" cy="379.7" r="7.6" fill="#1AB3B8"/>
<circle cx="435.7" cy="385.5" r="7.6" fill="#1AB3B8"/>
<circle cx="469" cy="402.3" r="7.6" fill="#5287FA"/>
<circle cx="443.8" cy="415.2" r="7.6" fill="#1DB233"/>
<text x="474.03" y="113.9" font-size="27" font-weight="bold" textLength="82.33" lengthAdjust="spacingAndGlyphs">Monday</text>
</g>
<g>
<g stroke="#000" stroke-opacity="0.2" stroke-linecap="butt">
<line x1="790.2" y1="143" x2="767.4" y2="168.3" stroke-width="1.2"/>
<line x1="790.2" y1="143" x2="802" y2="166" stroke-width="0.6"/>
<line x1="790.2" y1="143" x2="771.5" y2="204.2" stroke-width="0.6"/>
<line x1="767.4" y1="168.3" x2="771.5" y2="204.2" stroke-width="0.6"/>
<line x1="767.4" y1="168.3" x2="760.9" y2="237.5" stroke-width="0.6"/>
<line x1="802" y1="166" x2="760.9" y2="237.5" stroke-width="0.6"/>
<line x1="802" y1="166" x2="767.4" y2="168.3" stroke-width="0.6"/>
<line x1="737.9" y1="175" x2="705.4" y2="187.3" stroke-width="5"/>
<line x1="737.9" y1="175" x2="705.4" y2="187.3" stroke-width="2"/>
<line x1="737.9" y1="175" x2="725" y2="200.7" stroke-width="5"/>
<line x1="737.9" y1="175" x2="725" y2="200.7" stroke-width="2"/>
<line x1="737.9" y1="175" x2="710.5" y2="223" stroke-width="7"/>
<line x1="737.9" y1="175" x2="710.5" y2="223" stroke-width="4"/>
<line x1="737.9" y1="175" x2="710.5" y2="223" stroke-width="2"/>
<line x1="725" y1="200.7" x2="710.5" y2="223" stroke-width="5"/>
<line x1="725" y1="200.7" x2="710.5" y2="223" stroke-width="2"/>
<line x1="705.4" y1="187.3" x2="710.5" y2="223" stroke-width="4"/>
<line x1="705.4" y1="187.3" x2="725" y2="200.7" stroke-width="0.6"/>
<line x1="680.7" y1="260" x2="694.9" y2="336" stroke-width="0.6"/>
<line x1="741" y1="308.5" x2="860.2" y2="216.2" stroke-width="2"/>
<line x1="741" y1="308.5" x2="837.9" y2="166.8" stroke-width="0.6"/>
<line x1="814" y1="300" x2="790.2" y2="143" stroke-width="2.5"/>
<line x1="814" y1="300" x2="802" y2="166" stroke-width="2.5"/>
<line x1="814" y1="300" x2="767.4" y2="168.3" stroke-width="3"/>
<line x1="820.4" y1="298.9" x2="767.4" y2="168.3" stroke-width="0.6"/>
<line x1="814" y1="300" x2="737.9" y2="175" stroke-width="3"/>
<line x1="814" y1="300" x2="705.4" y2="187.3" stroke-width="0.6"/>
<line x1="814" y1="300" x2="725" y2="200.7" stroke-width="2"/>
<line x1="814" y1="300" x2="771.5" y2="204.2" stroke-width="3"/>
<line x1="820.4" y1="298.9" x2="771.5" y2="204.2" stroke-width="0.6"/>
<line x1="814" y1="300" x2="710.5" y2="223" stroke-width="3"/>
<line x1="814" y1="300" x2="760.9" y2="237.5" stroke-width="3"/>
<line x1="820.4" y1="298.9" x2="760.9" y2="237.5" stroke-width="1.5"/>
<line x1="814" y1="300" x2="680.7" y2="260" stroke-width="3"/>
<line x1="837.9" y1="166.8" x2="857.9" y2="158.5" stroke-width="2"/>
<line x1="857.9" y1="158.5" x2="882" y2="162.2" stroke-width="2.5"/>
<line x1="857.9" y1="158.5" x2="884.5" y2="221.7" stroke-width="2.5"/>
<line x1="857.9" y1="158.5" x2="927.4" y2="256" stroke-width="2.5"/>
<line x1="882" y1="162.2" x2="884.5" y2="221.7" stroke-width="0.6"/>
<line x1="882" y1="162.2" x2="927.4" y2="256" stroke-width="0.6"/>
<line x1="882" y1="162.2" x2="896.7" y2="177.3" stroke-width="0.6"/>
<line x1="896.7" y1="177.3" x2="911.7" y2="200.7" stroke-width="0.6"/>
<line x1="911.7" y1="200.7" x2="931.4" y2="220.3" stroke-width="0.6"/>
<line x1="911.7" y1="200.7" x2="860.2" y2="216.2" stroke-width="1.5"/>
<line x1="927.4" y1="256" x2="872.9" y2="278.8" stroke-width="3"/>
<line x1="884.5" y1="221.7" x2="872.9" y2="278.8" stroke-width="0.6"/>
<line x1="860.2" y1="216.2" x2="872.9" y2="278.8" stroke-width="0.6"/>
<line x1="882" y1="162.2" x2="837.4" y2="216.2" stroke-width="0.6"/>
<line x1="884.5" y1="221.7" x2="931.4" y2="220.3" stroke-width="0.6"/>
<line x1="860.2" y1="216.2" x2="884.5" y2="221.7" stroke-width="0.6"/>
<line x1="904.4" y1="231.7" x2="927.4" y2="256" stroke-width="0.6"/>
<line x1="896.7" y1="177.3" x2="904.4" y2="231.7" stroke-width="0.6"/>
<line x1="820.4" y1="298.9" x2="837.9" y2="166.8" stroke-width="2"/>
<line x1="820.4" y1="298.9" x2="857.9" y2="158.5" stroke-width="3"/>
<line x1="820.4" y1="298.9" x2="882" y2="162.2" stroke-width="3"/>
<line x1="820.4" y1="298.9" x2="896.7" y2="177.3" stroke-width="3"/>
<line x1="820.4" y1="298.9" x2="911.7" y2="200.7" stroke-width="2.5"/>
<line x1="820.4" y1="298.9" x2="837.4" y2="216.2" stroke-width="2"/>
<line x1="820.4" y1="298.9" x2="860.2" y2="216.2" stroke-width="2"/>
<line x1="820.4" y1="298.9" x2="884.5" y2="221.7" stroke-width="3"/>
<line x1="820.4" y1="298.9" x2="931.4" y2="220.3" stroke-width="3"/>
<line x1="820.4" y1="298.9" x2="904.4" y2="231.7" stroke-width="2.5"/>
<line x1="820.4" y1="298.9" x2="872.9" y2="278.8" stroke-width="3"/>
<line x1="814" y1="300" x2="872.9" y2="278.8" stroke-width="1.5"/>
<line x1="814" y1="300" x2="867" y2="303.7" stroke-width="4"/>
<line x1="820.4" y1="298.9" x2="867" y2="303.7" stroke-width="4"/>
<line x1="867" y1="303.7" x2="891" y2="309" stroke-width="3"/>
<line x1="872.9" y1="278.8" x2="891" y2="309" stroke-width="0.6"/>
<line x1="872.9" y1="278.8" x2="886.7" y2="377" stroke-width="0.6"/>
<line x1="712.2" y1="308.5" x2="741" y2="308.5" stroke-width="1.3"/>
<line x1="712.2" y1="308.5" x2="694.9" y2="336" stroke-width="1.3"/>
<line x1="712.2" y1="308.5" x2="742.2" y2="332.7" stroke-width="1.3"/>
<line x1="712.2" y1="308.5" x2="715.2" y2="341.7" stroke-width="1.3"/>
<line x1="712.2" y1="308.5" x2="755.7" y2="346.5" stroke-width="1.3"/>
<line x1="712.2" y1="308.5" x2="696.5" y2="363" stroke-width="1.3"/>
<line x1="712.2" y1="308.5" x2="725.4" y2="361" stroke-width="1.3"/>
<line x1="712.2" y1="308.5" x2="710.2" y2="378.3" stroke-width="1.3"/>
<line x1="712.2" y1="308.5" x2="752.2" y2="379.7" stroke-width="1.3"/>
<line x1="712.2" y1="308.5" x2="726.4" y2="385.5" stroke-width="1.3"/>
<line x1="712.2" y1="308.5" x2="759.7" y2="402.3" stroke-width="1.3"/>
<line x1="712.2" y1="308.5" x2="734.5" y2="415.2" stroke-width="1.3"/>
<line x1="741" y1="308.5" x2="694.9" y2="336" stroke-width="1.3"/>
<line x1="741" y1="308.5" x2="742.2" y2="332.7" stroke-width="1.3"/>
<line x1="741" y1="308.5" x2="715.2" y2="341.7" stroke-width="1.3"/>
<line x1="741" y1="308.5" x2="755.7" y2="346.5" stroke-width="1.3"/>
<line x1="741" y1="308.5" x2="696.5" y2="363" stroke-width="1.3"/>
<line x1="741" y1="308.5" x2="725.4" y2="361" stroke-width="1.3"/>
<line x1="741" y1="308.5" x2="710.2" y2="378.3" stroke-width="1.3"/>
<line x1="741" y1="308.5" x2="752.2" y2="379.7" stroke-width="1.3"/>
<line x1="741" y1="308.5" x2="726.4" y2="385.5" stroke-width="1.3"/>
<line x1="741" y1="308.5" x2="759.7" y2="402.3" stroke-width="1.3"/>
<line x1="741" y1="308.5" x2="734.5" y2="415.2" stroke-width="1.3"/>
<line x1="694.9" y1="336" x2="742.2" y2="332.7" stroke-width="1.3"/>
<line x1="694.9" y1="336" x2="715.2" y2="341.7" stroke-width="1.3"/>
<line x1="694.9" y1="336" x2="755.7" y2="346.5" stroke-width="1.3"/>
<line x1="694.9" y1="336" x2="696.5" y2="363" stroke-width="1.3"/>
<line x1="694.9" y1="336" x2="725.4" y2="361" stroke-width="1.3"/>
<line x1="694.9" y1="336" x2="710.2" y2="378.3" stroke-width="1.3"/>
<line x1="694.9" y1="336" x2="752.2" y2="379.7" stroke-width="1.3"/>
<line x1="694.9" y1="336" x2="726.4" y2="385.5" stroke-width="1.3"/>
<line x1="694.9" y1="336" x2="759.7" y2="402.3" stroke-width="1.3"/>
<line x1="694.9" y1="336" x2="734.5" y2="415.2" stroke-width="1.3"/>
<line x1="742.2" y1="332.7" x2="715.2" y2="341.7" stroke-width="1.3"/>
<line x1="742.2" y1="332.7" x2="755.7" y2="346.5" stroke-width="1.3"/>
<line x1="742.2" y1="332.7" x2="696.5" y2="363" stroke-width="1.3"/>
<line x1="742.2" y1="332.7" x2="725.4" y2="361" stroke-width="1.3"/>
<line x1="742.2" y1="332.7" x2="710.2" y2="378.3" stroke-width="1.3"/>
<line x1="742.2" y1="332.7" x2="752.2" y2="379.7" stroke-width="1.3"/>
<line x1="742.2" y1="332.7" x2="726.4" y2="385.5" stroke-width="1.3"/>
<line x1="742.2" y1="332.7" x2="759.7" y2="402.3" stroke-width="1.3"/>
<line x1="742.2" y1="332.7" x2="734.5" y2="415.2" stroke-width="1.3"/>
<line x1="715.2" y1="341.7" x2="755.7" y2="346.5" stroke-width="1.3"/>
<line x1="715.2" y1="341.7" x2="696.5" y2="363" stroke-width="1.3"/>
<line x1="715.2" y1="341.7" x2="725.4" y2="361" stroke-width="1.3"/>
<line x1="715.2" y1="341.7" x2="710.2" y2="378.3" stroke-width="1.3"/>
<line x1="715.2" y1="341.7" x2="752.2" y2="379.7" stroke-width="1.3"/>
<line x1="715.2" y1="341.7" x2="726.4" y2="385.5" stroke-width="1.3"/>
<line x1="715.2" y1="341.7" x2="759.7" y2="402.3" stroke-width="1.3"/>
<line x1="715.2" y1="341.7" x2="734.5" y2="415.2" stroke-width="1.3"/>
<line x1="755.7" y1="346.5" x2="696.5" y2="363" stroke-width="1.3"/>
<line x1="755.7" y1="346.5" x2="725.4" y2="361" stroke-width="1.3"/>
<line x1="755.7" y1="346.5" x2="710.2" y2="378.3" stroke-width="1.3"/>
<line x1="755.7" y1="346.5" x2="752.2" y2="379.7" stroke-width="1.3"/>
<line x1="755.7" y1="346.5" x2="726.4" y2="385.5" stroke-width="1.3"/>
<line x1="755.7" y1="346.5" x2="759.7" y2="402.3" stroke-width="1.3"/>
<line x1="755.7" y1="346.5" x2="734.5" y2="415.2" stroke-width="1.3"/>
<line x1="696.5" y1="363" x2="725.4" y2="361" stroke-width="1.3"/>
<line x1="696.5" y1="363" x2="710.2" y2="378.3" stroke-width="1.3"/>
<line x1="696.5" y1="363" x2="752.2" y2="379.7" stroke-width="1.3"/>
<line x1="696.5" y1="363" x2="726.4" y2="385.5" stroke-width="1.3"/>
<line x1="696.5" y1="363" x2="759.7" y2="402.3" stroke-width="1.3"/>
<line x1="696.5" y1="363" x2="734.5" y2="415.2" stroke-width="1.3"/>
<line x1="725.4" y1="361" x2="710.2" y2="378.3" stroke-width="1.3"/>
<line x1="725.4" y1="361" x2="752.2" y2="379.7" stroke-width="1.3"/>
<line x1="725.4" y1="361" x2="726.4" y2="385.5" stroke-width="1.3"/>
<line x1="725.4" y1="361" x2="759.7" y2="402.3" stroke-width="1.3"/>
<line x1="725.4" y1="361" x2="734.5" y2="415.2" stroke-width="1.3"/>
<line x1="710.2" y1="378.3" x2="752.2" y2="379.7" stroke-width="1.3"/>
<line x1="710.2" y1="378.3" x2="726.4" y2="385.5" stroke-width="1.3"/>
<line x1="710.2" y1="378.3" x2="759.7" y2="402.3" stroke-width="1.3"/>
<line x1="710.2" y1="378.3" x2="734.5" y2="415.2" stroke-width="1.3"/>
<line x1="752.2" y1="379.7" x2="726.4" y2="385.5" stroke-width="1.3"/>
<line x1="752.2" y1="379.7" x2="759.7" y2="402.3" stroke-width="1.3"/>
<line x1="752.2" y1="379.7" x2="734.5" y2="415.2" stroke-width="1.3"/>
<line x1="726.4" y1="385.5" x2="759.7" y2="402.3" stroke-width="1.3"/>
<line x1="726.4" y1="385.5" x2="734.5" y2="415.2" stroke-width="1.3"/>
<line x1="759.7" y1="402.3" x2="734.5" y2="415.2" stroke-width="1.3"/>
<line x1="712.2" y1="308.5" x2="715.2" y2="341.7" stroke-width="5"/>
<line x1="712.2" y1="308.5" x2="710.2" y2="378.3" stroke-width="4"/>
<line x1="741" y1="308.5" x2="696.5" y2="363" stroke-width="3"/>
<line x1="710.2" y1="378.3" x2="734.5" y2="415.2" stroke-width="6"/>
<line x1="726.4" y1="385.5" x2="734.5" y2="415.2" stroke-width="5"/>
<line x1="696.5" y1="363" x2="734.5" y2="415.2" stroke-width="4"/>
<line x1="752.2" y1="379.7" x2="734.5" y2="415.2" stroke-width="2"/>
<line x1="725.4" y1="361" x2="759.7" y2="402.3" stroke-width="4"/>
<line x1="696.5" y1="363" x2="725.4" y2="361" stroke-width="3"/>
<line x1="694.9" y1="336" x2="696.5" y2="363" stroke-width="3"/>
<line x1="715.2" y1="341.7" x2="725.4" y2="361" stroke-width="3"/>
<line x1="755.7" y1="346.5" x2="836" y2="412.5" stroke-width="0.6"/>
<line x1="814" y1="300" x2="712.2" y2="308.5" stroke-width="3"/>
<line x1="814" y1="300" x2="741" y2="308.5" stroke-width="3"/>
<line x1="814" y1="300" x2="694.9" y2="336" stroke-width="2"/>
<line x1="814" y1="300" x2="742.2" y2="332.7" stroke-width="3"/>
<line x1="814" y1="300" x2="715.2" y2="341.7" stroke-width="2"/>
<line x1="814" y1="300" x2="755.7" y2="346.5" stroke-width="3"/>
<line x1="814" y1="300" x2="696.5" y2="363" stroke-width="2"/>
<line x1="814" y1="300" x2="725.4" y2="361" stroke-width="2"/>
<line x1="814" y1="300" x2="710.2" y2="378.3" stroke-width="2"/>
<line x1="814" y1="300" x2="752.2" y2="379.7" stroke-width="3"/>
<line x1="814" y1="300" x2="726.4" y2="385.5" stroke-width="2"/>
<line x1="814" y1="300" x2="759.7" y2="402.3" stroke-width="3"/>
<line x1="814" y1="300" x2="910.4" y2="366.3" stroke-width="3"/>
<line x1="820.4" y1="298.9" x2="910.4" y2="366.3" stroke-width="2"/>
<line x1="814" y1="300" x2="931.7" y2="367" stroke-width="3"/>
<line x1="820.4" y1="298.9" x2="931.7" y2="367" stroke-width="2"/>
<line x1="814" y1="300" x2="886.7" y2="377" stroke-width="3"/>
<line x1="820.4" y1="298.9" x2="886.7" y2="377" stroke-width="2"/>
<line x1="814" y1="300" x2="857.5" y2="390" stroke-width="3"/>
<line x1="820.4" y1="298.9" x2="857.5" y2="390" stroke-width="2"/>
<line x1="814" y1="300" x2="913.3" y2="391.3" stroke-width="3"/>
<line x1="820.4" y1="298.9" x2="913.3" y2="391.3" stroke-width="2"/>
<line x1="814" y1="300" x2="888.5" y2="401.3" stroke-width="3"/>
<line x1="820.4" y1="298.9" x2="888.5" y2="401.3" stroke-width="2"/>
<line x1="814" y1="300" x2="836" y2="412.5" stroke-width="3"/>
<line x1="820.4" y1="298.9" x2="836" y2="412.5" stroke-width="2"/>
<line x1="814" y1="300" x2="865.5" y2="414.7" stroke-width="3"/>
<line x1="820.4" y1="298.9" x2="865.5" y2="414.7" stroke-width="2"/>
<line x1="814" y1="300" x2="917.1" y2="414.4" stroke-width="3"/>
<line x1="820.4" y1="298.9" x2="917.1" y2="414.4" stroke-width="2"/>
<line x1="814" y1="300" x2="901.2" y2="425" stroke-width="3"/>
<line x1="820.4" y1="298.9" x2="901.2" y2="425" stroke-width="2"/>
<line x1="814" y1="300" x2="852" y2="439.7" stroke-width="3"/>
<line x1="820.4" y1="298.9" x2="852" y2="439.7" stroke-width="2"/>
<line x1="814" y1="300" x2="887.2" y2="438.3" stroke-width="3"/>
<line x1="820.4" y1="298.9" x2="887.2" y2="438.3" stroke-width="2"/>
<line x1="814" y1="300" x2="868.9" y2="453.3" stroke-width="3"/>
<line x1="820.4" y1="298.9" x2="868.9" y2="453.3" stroke-width="2"/>
<line x1="910.4" y1="366.3" x2="931.7" y2="367" stroke-width="0.48"/>
<line x1="910.4" y1="366.3" x2="886.7" y2="377" stroke-width="0.48"/>
<line x1="910.4" y1="366.3" x2="857.5" y2="390" stroke-width="0.48"/>
<line x1="910.4" y1="366.3" x2="913.3" y2="391.3" stroke-width="0.48"/>
<line x1="910.4" y1="366.3" x2="888.5" y2="401.3" stroke-width="0.48"/>
<line x1="910.4" y1="366.3" x2="836" y2="412.5" stroke-width="0.48"/>
<line x1="910.4" y1="366.3" x2="865.5" y2="414.7" stroke-width="0.48"/>
<line x1="910.4" y1="366.3" x2="917.1" y2="414.4" stroke-width="0.48"/>
<line x1="910.4" y1="366.3" x2="901.2" y2="425" stroke-width="0.48"/>
<line x1="910.4" y1="366.3" x2="852" y2="439.7" stroke-width="0.48"/>
<line x1="910.4" y1="366.3" x2="887.2" y2="438.3" stroke-width="0.48"/>
<line x1="910.4" y1="366.3" x2="868.9" y2="453.3" stroke-width="0.48"/>
<line x1="931.7" y1="367" x2="886.7" y2="377" stroke-width="0.48"/>
<line x1="931.7" y1="367" x2="857.5" y2="390" stroke-width="0.48"/>
<line x1="931.7" y1="367" x2="913.3" y2="391.3" stroke-width="0.48"/>
<line x1="931.7" y1="367" x2="888.5" y2="401.3" stroke-width="0.48"/>
<line x1="931.7" y1="367" x2="836" y2="412.5" stroke-width="0.48"/>
<line x1="931.7" y1="367" x2="865.5" y2="414.7" stroke-width="0.48"/>
<line x1="931.7" y1="367" x2="917.1" y2="414.4" stroke-width="0.48"/>
<line x1="931.7" y1="367" x2="901.2" y2="425" stroke-width="0.48"/>
<line x1="931.7" y1="367" x2="852" y2="439.7" stroke-width="0.48"/>
<line x1="931.7" y1="367" x2="887.2" y2="438.3" stroke-width="0.48"/>
<line x1="931.7" y1="367" x2="868.9" y2="453.3" stroke-width="0.48"/>
<line x1="886.7" y1="377" x2="857.5" y2="390" stroke-width="0.48"/>
<line x1="886.7" y1="377" x2="913.3" y2="391.3" stroke-width="0.48"/>
<line x1="886.7" y1="377" x2="888.5" y2="401.3" stroke-width="0.48"/>
<line x1="886.7" y1="377" x2="836" y2="412.5" stroke-width="0.48"/>
<line x1="886.7" y1="377" x2="865.5" y2="414.7" stroke-width="0.48"/>
<line x1="886.7" y1="377" x2="917.1" y2="414.4" stroke-width="0.48"/>
<line x1="886.7" y1="377" x2="901.2" y2="425" stroke-width="0.48"/>
<line x1="886.7" y1="377" x2="852" y2="439.7" stroke-width="0.48"/>
<line x1="886.7" y1="377" x2="887.2" y2="438.3" stroke-width="0.48"/>
<line x1="886.7" y1="377" x2="868.9" y2="453.3" stroke-width="0.48"/>
<line x1="857.5" y1="390" x2="913.3" y2="391.3" stroke-width="0.48"/>
<line x1="857.5" y1="390" x2="888.5" y2="401.3" stroke-width="0.48"/>
<line x1="857.5" y1="390" x2="836" y2="412.5" stroke-width="0.48"/>
<line x1="857.5" y1="390" x2="865.5" y2="414.7" stroke-width="0.48"/>
<line x1="857.5" y1="390" x2="917.1" y2="414.4" stroke-width="0.48"/>
<line x1="857.5" y1="390" x2="901.2" y2="425" stroke-width="0.48"/>
<line x1="857.5" y1="390" x2="852" y2="439.7" stroke-width="0.48"/>
<line x1="857.5" y1="390" x2="887.2" y2="438.3" stroke-width="0.48"/>
<line x1="857.5" y1="390" x2="868.9" y2="453.3" stroke-width="0.48"/>
<line x1="913.3" y1="391.3" x2="888.5" y2="401.3" stroke-width="0.48"/>
<line x1="913.3" y1="391.3" x2="836" y2="412.5" stroke-width="0.48"/>
<line x1="913.3" y1="391.3" x2="865.5" y2="414.7" stroke-width="0.48"/>
<line x1="913.3" y1="391.3" x2="917.1" y2="414.4" stroke-width="0.48"/>
<line x1="913.3" y1="391.3" x2="901.2" y2="425" stroke-width="0.48"/>
<line x1="913.3" y1="391.3" x2="852" y2="439.7" stroke-width="0.48"/>
<line x1="913.3" y1="391.3" x2="887.2" y2="438.3" stroke-width="0.48"/>
<line x1="913.3" y1="391.3" x2="868.9" y2="453.3" stroke-width="0.48"/>
<line x1="888.5" y1="401.3" x2="836" y2="412.5" stroke-width="0.48"/>
<line x1="888.5" y1="401.3" x2="865.5" y2="414.7" stroke-width="0.48"/>
<line x1="888.5" y1="401.3" x2="917.1" y2="414.4" stroke-width="0.48"/>
<line x1="888.5" y1="401.3" x2="901.2" y2="425" stroke-width="0.48"/>
<line x1="888.5" y1="401.3" x2="852" y2="439.7" stroke-width="0.48"/>
<line x1="888.5" y1="401.3" x2="887.2" y2="438.3" stroke-width="0.48"/>
<line x1="888.5" y1="401.3" x2="868.9" y2="453.3" stroke-width="0.48"/>
<line x1="836" y1="412.5" x2="865.5" y2="414.7" stroke-width="0.48"/>
<line x1="836" y1="412.5" x2="917.1" y2="414.4" stroke-width="0.48"/>
<line x1="836" y1="412.5" x2="901.2" y2="425" stroke-width="0.48"/>
<line x1="836" y1="412.5" x2="852" y2="439.7" stroke-width="0.48"/>
<line x1="836" y1="412.5" x2="887.2" y2="438.3" stroke-width="0.48"/>
<line x1="836" y1="412.5" x2="868.9" y2="453.3" stroke-width="0.48"/>
<line x1="865.5" y1="414.7" x2="917.1" y2="414.4" stroke-width="0.48"/>
<line x1="865.5" y1="414.7" x2="901.2" y2="425" stroke-width="0.48"/>
<line x1="865.5" y1="414.7" x2="852" y2="439.7" stroke-width="0.48"/>
<line x1="865.5" y1="414.7" x2="887.2" y2="438.3" stroke-width="0.48"/>
<line x1="865.5" y1="414.7" x2="868.9" y2="453.3" stroke-width="0.48"/>
<line x1="917.1" y1="414.4" x2="901.2" y2="425" stroke-width="0.48"/>
<line x1="917.1" y1="414.4" x2="852" y2="439.7" stroke-width="0.48"/>
<line x1="917.1" y1="414.4" x2="887.2" y2="438.3" stroke-width="0.48"/>
<line x1="917.1" y1="414.4" x2="868.9" y2="453.3" stroke-width="0.48"/>
<line x1="901.2" y1="425" x2="852" y2="439.7" stroke-width="0.48"/>
<line x1="901.2" y1="425" x2="887.2" y2="438.3" stroke-width="0.48"/>
<line x1="901.2" y1="425" x2="868.9" y2="453.3" stroke-width="0.48"/>
<line x1="852" y1="439.7" x2="887.2" y2="438.3" stroke-width="0.48"/>
<line x1="852" y1="439.7" x2="868.9" y2="453.3" stroke-width="0.48"/>
<line x1="887.2" y1="438.3" x2="868.9" y2="453.3" stroke-width="0.48"/>
<line x1="865.5" y1="414.7" x2="910.4" y2="366.3" stroke-width="2.2"/>
<line x1="865.5" y1="414.7" x2="931.7" y2="367" stroke-width="2.2"/>
<line x1="865.5" y1="414.7" x2="886.7" y2="377" stroke-width="2.2"/>
<line x1="865.5" y1="414.7" x2="857.5" y2="390" stroke-width="2.2"/>
<line x1="865.5" y1="414.7" x2="913.3" y2="391.3" stroke-width="2.2"/>
<line x1="865.5" y1="414.7" x2="888.5" y2="401.3" stroke-width="2.2"/>
<line x1="865.5" y1="414.7" x2="836" y2="412.5" stroke-width="2.2"/>
<line x1="865.5" y1="414.7" x2="917.1" y2="414.4" stroke-width="2.2"/>
<line x1="865.5" y1="414.7" x2="901.2" y2="425" stroke-width="2.2"/>
<line x1="865.5" y1="414.7" x2="852" y2="439.7" stroke-width="2.2"/>
<line x1="865.5" y1="414.7" x2="887.2" y2="438.3" stroke-width="2.2"/>
<line x1="865.5" y1="414.7" x2="868.9" y2="453.3" stroke-width="2.2"/>
<line x1="888.5" y1="401.3" x2="910.4" y2="366.3" stroke-width="1.8"/>
<line x1="888.5" y1="401.3" x2="931.7" y2="367" stroke-width="1.8"/>
<line x1="888.5" y1="401.3" x2="886.7" y2="377" stroke-width="1.8"/>
<line x1="888.5" y1="401.3" x2="857.5" y2="390" stroke-width="1.8"/>
<line x1="888.5" y1="401.3" x2="913.3" y2="391.3" stroke-width="1.8"/>
<line x1="888.5" y1="401.3" x2="836" y2="412.5" stroke-width="1.8"/>
<line x1="888.5" y1="401.3" x2="917.1" y2="414.4" stroke-width="1.8"/>
<line x1="888.5" y1="401.3" x2="901.2" y2="425" stroke-width="1.8"/>
<line x1="888.5" y1="401.3" x2="852" y2="439.7" stroke-width="1.8"/>
<line x1="888.5" y1="401.3" x2="887.2" y2="438.3" stroke-width="1.8"/>
<line x1="888.5" y1="401.3" x2="868.9" y2="453.3" stroke-width="1.8"/>
<line x1="910.4" y1="366.3" x2="913.3" y2="391.3" stroke-width="2.5"/>
<line x1="931.7" y1="367" x2="913.3" y2="391.3" stroke-width="3"/>
<line x1="931.7" y1="367" x2="917.1" y2="414.4" stroke-width="2.5"/>
<line x1="886.7" y1="377" x2="857.5" y2="390" stroke-width="2.5"/>
<line x1="887.2" y1="438.3" x2="868.9" y2="453.3" stroke-width="2"/>
<line x1="901.2" y1="425" x2="887.2" y2="438.3" stroke-width="2.5"/>
</g>
<circle cx="790.2" cy="143" r="7.6" fill="#1AB3B8"/>
<circle cx="802" cy="166" r="7.6" fill="#A88C00"/>
<circle cx="767.4" cy="168.3" r="7.6" fill="#A88C00"/>
<circle cx="737.9" cy="175" r="7.6" fill="#EE48DD"/>
<circle cx="705.4" cy="187.3" r="7.6" fill="#1DB233"/>
<circle cx="725" cy="200.7" r="7.6" fill="#EE48DD"/>
<circle cx="771.5" cy="204.2" r="7.6" fill="#A88C00"/>
<circle cx="710.5" cy="223" r="7.6" fill="#EE48DD"/>
<circle cx="760.9" cy="237.5" r="7.6" fill="#A88C00"/>
<circle cx="680.7" cy="260" r="7.6" fill="#EE48DD"/>
<circle cx="837.9" cy="166.8" r="7.6" fill="#1AB3B8"/>
<circle cx="857.9" cy="158.5" r="7.6" fill="#1DB233"/>
<circle cx="882" cy="162.2" r="7.6" fill="#1AB3B8"/>
<circle cx="896.7" cy="177.3" r="7.6" fill="#1AB3B8"/>
<circle cx="911.7" cy="200.7" r="7.6" fill="#1DB233"/>
<circle cx="837.4" cy="216.2" r="7.6" fill="#1AB3B8"/>
<circle cx="860.2" cy="216.2" r="7.6" fill="#1AB3B8"/>
<circle cx="884.5" cy="221.7" r="7.6" fill="#1AB3B8"/>
<circle cx="931.4" cy="220.3" r="7.6" fill="#1AB3B8"/>
<circle cx="904.4" cy="231.7" r="7.6" fill="#1AB3B8"/>
<circle cx="927.4" cy="256" r="7.6" fill="#1AB3B8"/>
<circle cx="814" cy="300" r="7.6" fill="#F0605A"/>
<circle cx="820.4" cy="298.9" r="7.6" fill="#F0605A"/>
<circle cx="872.9" cy="278.8" r="7.6" fill="#F0605A"/>
<circle cx="867" cy="303.7" r="7.6" fill="#F0605A"/>
<circle cx="891" cy="309" r="7.6" fill="#F0605A"/>
<circle cx="856.9" cy="334.2" r="7.6" fill="#F0605A"/>
<circle cx="833.3" cy="349.7" r="7.6" fill="#F0605A"/>
<circle cx="910.4" cy="366.3" r="7.6" fill="#A88C00"/>
<circle cx="931.7" cy="367" r="7.6" fill="#1DB233"/>
<circle cx="886.7" cy="377" r="7.6" fill="#A88C00"/>
<circle cx="857.5" cy="390" r="7.6" fill="#A88C00"/>
<circle cx="913.3" cy="391.3" r="7.6" fill="#EE48DD"/>
<circle cx="888.5" cy="401.3" r="7.6" fill="#A88C00"/>
<circle cx="836" cy="412.5" r="7.6" fill="#EE48DD"/>
<circle cx="865.5" cy="414.7" r="7.6" fill="#A88C00"/>
<circle cx="917.1" cy="414.4" r="7.6" fill="#A88C00"/>
<circle cx="901.2" cy="425" r="7.6" fill="#A88C00"/>
<circle cx="852" cy="439.7" r="7.6" fill="#A88C00"/>
<circle cx="887.2" cy="438.3" r="7.6" fill="#EE48DD"/>
<circle cx="868.9" cy="453.3" r="7.6" fill="#A88C00"/>
<circle cx="712.2" cy="308.5" r="7.6" fill="#5287FA"/>
<circle cx="741" cy="308.5" r="7.6" fill="#5287FA"/>
<circle cx="694.9" cy="336" r="7.6" fill="#EE48DD"/>
<circle cx="742.2" cy="332.7" r="7.6" fill="#1AB3B8"/>
<circle cx="715.2" cy="341.7" r="7.6" fill="#5287FA"/>
<circle cx="755.7" cy="346.5" r="7.6" fill="#EE48DD"/>
<circle cx="696.5" cy="363" r="7.6" fill="#EE48DD"/>
<circle cx="725.4" cy="361" r="7.6" fill="#EE48DD"/>
<circle cx="710.2" cy="378.3" r="7.6" fill="#5287FA"/>
<circle cx="752.2" cy="379.7" r="7.6" fill="#1AB3B8"/>
<circle cx="726.4" cy="385.5" r="7.6" fill="#1AB3B8"/>
<circle cx="759.7" cy="402.3" r="7.6" fill="#5287FA"/>
<circle cx="734.5" cy="415.2" r="7.6" fill="#1DB233"/>
<text x="761.99" y="113.9" font-size="27" font-weight="bold" textLength="87.83" lengthAdjust="spacingAndGlyphs">Tuesday</text>
</g>
<g>
<g stroke="#000" stroke-opacity="0.2" stroke-linecap="butt">
<line x1="186.4" y1="572.5" x2="179.9" y2="641.7" stroke-width="4"/>
<line x1="190.5" y1="608.4" x2="179.9" y2="641.7" stroke-width="2"/>
<line x1="156.9" y1="579.2" x2="124.4" y2="591.5" stroke-width="3"/>
<line x1="156.9" y1="579.2" x2="129.5" y2="627.2" stroke-width="5"/>
<line x1="156.9" y1="579.2" x2="129.5" y2="627.2" stroke-width="2"/>
<line x1="124.4" y1="591.5" x2="129.5" y2="627.2" stroke-width="3"/>
<line x1="124.4" y1="591.5" x2="144" y2="604.9" stroke-width="2"/>
<line x1="156.9" y1="579.2" x2="144" y2="604.9" stroke-width="1.5"/>
<line x1="144" y1="604.9" x2="129.5" y2="627.2" stroke-width="2"/>
<line x1="129.5" y1="627.2" x2="131.2" y2="712.7" stroke-width="0.6"/>
<line x1="256.4" y1="620.4" x2="174.7" y2="750.7" stroke-width="2"/>
<line x1="256.4" y1="620.4" x2="174.7" y2="750.7" stroke-width="0.6"/>
<line x1="233" y1="704.2" x2="209.2" y2="547.2" stroke-width="2.5"/>
<line x1="233" y1="704.2" x2="221" y2="570.2" stroke-width="2.5"/>
<line x1="233" y1="704.2" x2="186.4" y2="572.5" stroke-width="3"/>
<line x1="233" y1="704.2" x2="156.9" y2="579.2" stroke-width="3"/>
<line x1="233" y1="704.2" x2="124.4" y2="591.5" stroke-width="2"/>
<line x1="233" y1="704.2" x2="144" y2="604.9" stroke-width="2.5"/>
<line x1="233" y1="704.2" x2="190.5" y2="608.4" stroke-width="3"/>
<line x1="233" y1="704.2" x2="129.5" y2="627.2" stroke-width="3"/>
<line x1="233" y1="704.2" x2="179.9" y2="641.7" stroke-width="3"/>
<line x1="233" y1="704.2" x2="99.7" y2="664.2" stroke-width="3"/>
<line x1="256.9" y1="571" x2="276.9" y2="562.7" stroke-width="0.6"/>
<line x1="276.9" y1="562.7" x2="301" y2="566.4" stroke-width="0.6"/>
<line x1="301" y1="566.4" x2="315.7" y2="581.5" stroke-width="2"/>
<line x1="315.7" y1="581.5" x2="330.7" y2="604.9" stroke-width="2.5"/>
<line x1="330.7" y1="604.9" x2="350.4" y2="624.5" stroke-width="2.5"/>
<line x1="276.9" y1="562.7" x2="330.7" y2="604.9" stroke-width="0.6"/>
<line x1="301" y1="566.4" x2="303.5" y2="625.9" stroke-width="2"/>
<line x1="330.7" y1="604.9" x2="279.2" y2="620.4" stroke-width="2"/>
<line x1="256.4" y1="620.4" x2="279.2" y2="620.4" stroke-width="2"/>
<line x1="279.2" y1="620.4" x2="350.4" y2="624.5" stroke-width="0.6"/>
<line x1="303.5" y1="625.9" x2="350.4" y2="624.5" stroke-width="2.5"/>
<line x1="279.2" y1="620.4" x2="346.4" y2="660.2" stroke-width="3"/>
<line x1="346.4" y1="660.2" x2="291.9" y2="683" stroke-width="2.5"/>
<line x1="330.7" y1="604.9" x2="329.4" y2="770.5" stroke-width="0.6"/>
<line x1="315.7" y1="581.5" x2="323.4" y2="635.9" stroke-width="0.6"/>
<line x1="239.4" y1="703.1" x2="256.9" y2="571" stroke-width="2"/>
<line x1="239.4" y1="703.1" x2="276.9" y2="562.7" stroke-width="2.5"/>
<line x1="239.4" y1="703.1" x2="301" y2="566.4" stroke-width="3"/>
<line x1="239.4" y1="703.1" x2="315.7" y2="581.5" stroke-width="3"/>
<line x1="239.4" y1="703.1" x2="330.7" y2="604.9" stroke-width="2"/>
<line x1="239.4" y1="703.1" x2="256.4" y2="620.4" stroke-width="2"/>
<line x1="239.4" y1="703.1" x2="279.2" y2="620.4" stroke-width="2.5"/>
<line x1="239.4" y1="703.1" x2="303.5" y2="625.9" stroke-width="2.5"/>
<line x1="239.4" y1="703.1" x2="350.4" y2="624.5" stroke-width="2.5"/>
<line x1="239.4" y1="703.1" x2="323.4" y2="635.9" stroke-width="2.5"/>
<line x1="233" y1="704.2" x2="291.9" y2="683" stroke-width="4"/>
<line x1="239.4" y1="703.1" x2="291.9" y2="683" stroke-width="4"/>
<line x1="233" y1="704.2" x2="291.9" y2="683" stroke-width="2"/>
<line x1="291.9" y1="683" x2="286" y2="707.9" stroke-width="4"/>
<line x1="291.9" y1="683" x2="310" y2="713.2" stroke-width="3"/>
<line x1="286" y1="707.9" x2="310" y2="713.2" stroke-width="4"/>
<line x1="233" y1="704.2" x2="286" y2="707.9" stroke-width="4"/>
<line x1="239.4" y1="703.1" x2="286" y2="707.9" stroke-width="3"/>
<line x1="233" y1="704.2" x2="275.9" y2="738.4" stroke-width="3"/>
<line x1="233" y1="704.2" x2="252.3" y2="753.9" stroke-width="3"/>
<line x1="286" y1="707.9" x2="252.3" y2="753.9" stroke-width="4"/>
<line x1="286" y1="707.9" x2="275.9" y2="738.4" stroke-width="3"/>
<line x1="310" y1="713.2" x2="275.9" y2="738.4" stroke-width="2"/>
<line x1="131.2" y1="712.7" x2="160" y2="712.7" stroke-width="0.36"/>
<line x1="131.2" y1="712.7" x2="113.9" y2="740.2" stroke-width="0.36"/>
<line x1="131.2" y1="712.7" x2="161.2" y2="736.9" stroke-width="0.36"/>
<line x1="131.2" y1="712.7" x2="134.2" y2="745.9" stroke-width="0.36"/>
<line x1="131.2" y1="712.7" x2="174.7" y2="750.7" stroke-width="0.36"/>
<line x1="131.2" y1="712.7" x2="115.5" y2="767.2" stroke-width="0.36"/>
<line x1="131.2" y1="712.7" x2="144.4" y2="765.2" stroke-width="0.36"/>
<line x1="131.2" y1="712.7" x2="129.2" y2="782.5" stroke-width="0.36"/>
<line x1="131.2" y1="712.7" x2="171.2" y2="783.9" stroke-width="0.36"/>
<line x1="131.2" y1="712.7" x2="145.4" y2="789.7" stroke-width="0.36"/>
<line x1="131.2" y1="712.7" x2="178.7" y2="806.5" stroke-width="0.36"/>
<line x1="131.2" y1="712.7" x2="153.5" y2="819.4" stroke-width="0.36"/>
<line x1="160" y1="712.7" x2="113.9" y2="740.2" stroke-width="0.36"/>
<line x1="160" y1="712.7" x2="161.2" y2="736.9" stroke-width="0.36"/>
<line x1="160" y1="712.7" x2="134.2" y2="745.9" stroke-width="0.36"/>
<line x1="160" y1="712.7" x2="174.7" y2="750.7" stroke-width="0.36"/>
<line x1="160" y1="712.7" x2="115.5" y2="767.2" stroke-width="0.36"/>
<line x1="160" y1="712.7" x2="144.4" y2="765.2" stroke-width="0.36"/>
<line x1="160" y1="712.7" x2="129.2" y2="782.5" stroke-width="0.36"/>
<line x1="160" y1="712.7" x2="171.2" y2="783.9" stroke-width="0.36"/>
<line x1="160" y1="712.7" x2="145.4" y2="789.7" stroke-width="0.36"/>
<line x1="160" y1="712.7" x2="178.7" y2="806.5" stroke-width="0.36"/>
<line x1="160" y1="712.7" x2="153.5" y2="819.4" stroke-width="0.36"/>
<line x1="113.9" y1="740.2" x2="161.2" y2="736.9" stroke-width="0.36"/>
<line x1="113.9" y1="740.2" x2="134.2" y2="745.9" stroke-width="0.36"/>
<line x1="113.9" y1="740.2" x2="174.7" y2="750.7" stroke-width="0.36"/>
<line x1="113.9" y1="740.2" x2="115.5" y2="767.2" stroke-width="0.36"/>
<line x1="113.9" y1="740.2" x2="144.4" y2="765.2" stroke-width="0.36"/>
<line x1="113.9" y1="740.2" x2="129.2" y2="782.5" stroke-width="0.36"/>
<line x1="113.9" y1="740.2" x2="171.2" y2="783.9" stroke-width="0.36"/>
<line x1="113.9" y1="740.2" x2="145.4" y2="789.7" stroke-width="0.36"/>
<line x1="113.9" y1="740.2" x2="178.7" y2="806.5" stroke-width="0.36"/>
<line x1="113.9" y1="740.2" x2="153.5" y2="819.4" stroke-width="0.36"/>
<line x1="161.2" y1="736.9" x2="134.2" y2="745.9" stroke-width="0.36"/>
<line x1="161.2" y1="736.9" x2="174.7" y2="750.7" stroke-width="0.36"/>
<line x1="161.2" y1="736.9" x2="115.5" y2="767.2" stroke-width="0.36"/>
<line x1="161.2" y1="736.9" x2="144.4" y2="765.2" stroke-width="0.36"/>
<line x1="161.2" y1="736.9" x2="129.2" y2="782.5" stroke-width="0.36"/>
<line x1="161.2" y1="736.9" x2="171.2" y2="783.9" stroke-width="0.36"/>
<line x1="161.2" y1="736.9" x2="145.4" y2="789.7" stroke-width="0.36"/>
<line x1="161.2" y1="736.9" x2="178.7" y2="806.5" stroke-width="0.36"/>
<line x1="161.2" y1="736.9" x2="153.5" y2="819.4" stroke-width="0.36"/>
<line x1="134.2" y1="745.9" x2="174.7" y2="750.7" stroke-width="0.36"/>
<line x1="134.2" y1="745.9" x2="115.5" y2="767.2" stroke-width="0.36"/>
<line x1="134.2" y1="745.9" x2="144.4" y2="765.2" stroke-width="0.36"/>
<line x1="134.2" y1="745.9" x2="129.2" y2="782.5" stroke-width="0.36"/>
<line x1="134.2" y1="745.9" x2="171.2" y2="783.9" stroke-width="0.36"/>
<line x1="134.2" y1="745.9" x2="145.4" y2="789.7" stroke-width="0.36"/>
<line x1="134.2" y1="745.9" x2="178.7" y2="806.5" stroke-width="0.36"/>
<line x1="134.2" y1="745.9" x2="153.5" y2="819.4" stroke-width="0.36"/>
<line x1="174.7" y1="750.7" x2="115.5" y2="767.2" stroke-width="0.36"/>
<line x1="174.7" y1="750.7" x2="144.4" y2="765.2" stroke-width="0.36"/>
<line x1="174.7" y1="750.7" x2="129.2" y2="782.5" stroke-width="0.36"/>
<line x1="174.7" y1="750.7" x2="171.2" y2="783.9" stroke-width="0.36"/>
<line x1="174.7" y1="750.7" x2="145.4" y2="789.7" stroke-width="0.36"/>
<line x1="174.7" y1="750.7" x2="178.7" y2="806.5" stroke-width="0.36"/>
<line x1="174.7" y1="750.7" x2="153.5" y2="819.4" stroke-width="0.36"/>
<line x1="115.5" y1="767.2" x2="144.4" y2="765.2" stroke-width="0.36"/>
<line x1="115.5" y1="767.2" x2="129.2" y2="782.5" stroke-width="0.36"/>
<line x1="115.5" y1="767.2" x2="171.2" y2="783.9" stroke-width="0.36"/>
<line x1="115.5" y1="767.2" x2="145.4" y2="789.7" stroke-width="0.36"/>
<line x1="115.5" y1="767.2" x2="178.7" y2="806.5" stroke-width="0.36"/>
<line x1="115.5" y1="767.2" x2="153.5" y2="819.4" stroke-width="0.36"/>
<line x1="144.4" y1="765.2" x2="129.2" y2="782.5" stroke-width="0.36"/>
<line x1="144.4" y1="765.2" x2="171.2" y2="783.9" stroke-width="0.36"/>
<line x1="144.4" y1="765.2" x2="145.4" y2="789.7" stroke-width="0.36"/>
<line x1="144.4" y1="765.2" x2="178.7" y2="806.5" stroke-width="0.36"/>
<line x1="144.4" y1="765.2" x2="153.5" y2="819.4" stroke-width="0.36"/>
<line x1="129.2" y1="782.5" x2="171.2" y2="783.9" stroke-width="0.36"/>
<line x1="129.2" y1="782.5" x2="145.4" y2="789.7" stroke-width="0.36"/>
<line x1="129.2" y1="782.5" x2="178.7" y2="806.5" stroke-width="0.36"/>
<line x1="129.2" y1="782.5" x2="153.5" y2="819.4" stroke-width="0.36"/>
<line x1="171.2" y1="783.9" x2="145.4" y2="789.7" stroke-width="0.36"/>
<line x1="171.2" y1="783.9" x2="178.7" y2="806.5" stroke-width="0.36"/>
<line x1="171.2" y1="783.9" x2="153.5" y2="819.4" stroke-width="0.36"/>
<line x1="145.4" y1="789.7" x2="178.7" y2="806.5" stroke-width="0.36"/>
<line x1="145.4" y1="789.7" x2="153.5" y2="819.4" stroke-width="0.36"/>
<line x1="178.7" y1="806.5" x2="153.5" y2="819.4" stroke-width="0.36"/>
<line x1="131.2" y1="712.7" x2="134.2" y2="745.9" stroke-width="4"/>
<line x1="131.2" y1="712.7" x2="129.2" y2="782.5" stroke-width="4"/>
<line x1="160" y1="712.7" x2="129.2" y2="782.5" stroke-width="4"/>
<line x1="113.9" y1="740.2" x2="129.2" y2="782.5" stroke-width="4"/>
<line x1="129.2" y1="782.5" x2="153.5" y2="819.4" stroke-width="6"/>
<line x1="145.4" y1="789.7" x2="178.7" y2="806.5" stroke-width="4"/>
<line x1="171.2" y1="783.9" x2="145.4" y2="789.7" stroke-width="3"/>
<line x1="178.7" y1="806.5" x2="153.5" y2="819.4" stroke-width="3"/>
<line x1="178.7" y1="806.5" x2="252.3" y2="753.9" stroke-width="2.5"/>
<line x1="113.9" y1="740.2" x2="115.5" y2="767.2" stroke-width="2"/>
<line x1="115.5" y1="767.2" x2="129.2" y2="782.5" stroke-width="3"/>
<line x1="134.2" y1="745.9" x2="129.2" y2="782.5" stroke-width="3"/>
<line x1="129.2" y1="782.5" x2="161.2" y2="736.9" stroke-width="1.5"/>
<line x1="129.2" y1="782.5" x2="174.7" y2="750.7" stroke-width="1.5"/>
<line x1="129.2" y1="782.5" x2="144.4" y2="765.2" stroke-width="1.5"/>
<line x1="129.2" y1="782.5" x2="171.2" y2="783.9" stroke-width="1.5"/>
<line x1="129.2" y1="782.5" x2="145.4" y2="789.7" stroke-width="1.5"/>
<line x1="129.2" y1="782.5" x2="178.7" y2="806.5" stroke-width="1.5"/>
<line x1="233" y1="704.2" x2="131.2" y2="712.7" stroke-width="2.5"/>
<line x1="233" y1="704.2" x2="160" y2="712.7" stroke-width="2.5"/>
<line x1="233" y1="704.2" x2="113.9" y2="740.2" stroke-width="2.5"/>
<line x1="233" y1="704.2" x2="161.2" y2="736.9" stroke-width="2.5"/>
<line x1="233" y1="704.2" x2="134.2" y2="745.9" stroke-width="2"/>
<line x1="233" y1="704.2" x2="174.7" y2="750.7" stroke-width="3"/>
<line x1="233" y1="704.2" x2="144.4" y2="765.2" stroke-width="2"/>
<line x1="233" y1="704.2" x2="171.2" y2="783.9" stroke-width="2.5"/>
<line x1="233" y1="704.2" x2="115.5" y2="767.2" stroke-width="1.5"/>
<line x1="233" y1="704.2" x2="145.4" y2="789.7" stroke-width="1.5"/>
<line x1="233" y1="704.2" x2="329.4" y2="770.5" stroke-width="3"/>
<line x1="239.4" y1="703.1" x2="329.4" y2="770.5" stroke-width="2"/>
<line x1="233" y1="704.2" x2="350.7" y2="771.2" stroke-width="3"/>
<line x1="239.4" y1="703.1" x2="350.7" y2="771.2" stroke-width="2"/>
<line x1="233" y1="704.2" x2="305.7" y2="781.2" stroke-width="3"/>
<line x1="239.4" y1="703.1" x2="305.7" y2="781.2" stroke-width="2"/>
<line x1="233" y1="704.2" x2="276.5" y2="794.2" stroke-width="3"/>
<line x1="239.4" y1="703.1" x2="276.5" y2="794.2" stroke-width="2"/>
<line x1="233" y1="704.2" x2="332.3" y2="795.5" stroke-width="3"/>
<line x1="239.4" y1="703.1" x2="332.3" y2="795.5" stroke-width="2"/>
<line x1="233" y1="704.2" x2="307.5" y2="805.5" stroke-width="3"/>
<line x1="239.4" y1="703.1" x2="307.5" y2="805.5" stroke-width="2"/>
<line x1="233" y1="704.2" x2="255" y2="816.7" stroke-width="3"/>
<line x1="239.4" y1="703.1" x2="255" y2="816.7" stroke-width="2"/>
<line x1="233" y1="704.2" x2="284.5" y2="818.9" stroke-width="3"/>
<line x1="239.4" y1="703.1" x2="284.5" y2="818.9" stroke-width="2"/>
<line x1="233" y1="704.2" x2="336.1" y2="818.6" stroke-width="3"/>
<line x1="239.4" y1="703.1" x2="336.1" y2="818.6" stroke-width="2"/>
<line x1="233" y1="704.2" x2="320.2" y2="829.2" stroke-width="3"/>
<line x1="239.4" y1="703.1" x2="320.2" y2="829.2" stroke-width="2"/>
<line x1="233" y1="704.2" x2="271" y2="843.9" stroke-width="3"/>
<line x1="239.4" y1="703.1" x2="271" y2="843.9" stroke-width="2"/>
<line x1="233" y1="704.2" x2="306.2" y2="842.5" stroke-width="3"/>
<line x1="239.4" y1="703.1" x2="306.2" y2="842.5" stroke-width="2"/>
<line x1="233" y1="704.2" x2="287.9" y2="857.5" stroke-width="3"/>
<line x1="239.4" y1="703.1" x2="287.9" y2="857.5" stroke-width="2"/>
<line x1="329.4" y1="770.5" x2="350.7" y2="771.2" stroke-width="0.48"/>
<line x1="329.4" y1="770.5" x2="305.7" y2="781.2" stroke-width="0.48"/>
<line x1="329.4" y1="770.5" x2="276.5" y2="794.2" stroke-width="0.48"/>
<line x1="329.4" y1="770.5" x2="332.3" y2="795.5" stroke-width="0.48"/>
<line x1="329.4" y1="770.5" x2="307.5" y2="805.5" stroke-width="0.48"/>
<line x1="329.4" y1="770.5" x2="255" y2="816.7" stroke-width="0.48"/>
<line x1="329.4" y1="770.5" x2="284.5" y2="818.9" stroke-width="0.48"/>
<line x1="329.4" y1="770.5" x2="336.1" y2="818.6" stroke-width="0.48"/>
<line x1="329.4" y1="770.5" x2="320.2" y2="829.2" stroke-width="0.48"/>
<line x1="329.4" y1="770.5" x2="271" y2="843.9" stroke-width="0.48"/>
<line x1="329.4" y1="770.5" x2="306.2" y2="842.5" stroke-width="0.48"/>
<line x1="329.4" y1="770.5" x2="287.9" y2="857.5" stroke-width="0.48"/>
<line x1="350.7" y1="771.2" x2="305.7" y2="781.2" stroke-width="0.48"/>
<line x1="350.7" y1="771.2" x2="276.5" y2="794.2" stroke-width="0.48"/>
<line x1="350.7" y1="771.2" x2="332.3" y2="795.5" stroke-width="0.48"/>
<line x1="350.7" y1="771.2" x2="307.5" y2="805.5" stroke-width="0.48"/>
<line x1="350.7" y1="771.2" x2="255" y2="816.7" stroke-width="0.48"/>
<line x1="350.7" y1="771.2" x2="284.5" y2="818.9" stroke-width="0.48"/>
<line x1="350.7" y1="771.2" x2="336.1" y2="818.6" stroke-width="0.48"/>
<line x1="350.7" y1="771.2" x2="320.2" y2="829.2" stroke-width="0.48"/>
<line x1="350.7" y1="771.2" x2="271" y2="843.9" stroke-width="0.48"/>
<line x1="350.7" y1="771.2" x2="306.2" y2="842.5" stroke-width="0.48"/>
<line x1="350.7" y1="771.2" x2="287.9" y2="857.5" stroke-width="0.48"/>
<line x1="305.7" y1="781.2" x2="276.5" y2="794.2" stroke-width="0.48"/>
<line x1="305.7" y1="781.2" x2="332.3" y2="795.5" stroke-width="0.48"/>
<line x1="305.7" y1="781.2" x2="307.5" y2="805.5" stroke-width="0.48"/>
<line x1="305.7" y1="781.2" x2="255" y2="816.7" stroke-width="0.48"/>
<line x1="305.7" y1="781.2" x2="284.5" y2="818.9" stroke-width="0.48"/>
<line x1="305.7" y1="781.2" x2="336.1" y2="818.6" stroke-width="0.48"/>
<line x1="305.7" y1="781.2" x2="320.2" y2="829.2" stroke-width="0.48"/>
<line x1="305.7" y1="781.2" x2="271" y2="843.9" stroke-width="0.48"/>
<line x1="305.7" y1="781.2" x2="306.2" y2="842.5" stroke-width="0.48"/>
<line x1="305.7" y1="781.2" x2="287.9" y2="857.5" stroke-width="0.48"/>
<line x1="276.5" y1="794.2" x2="332.3" y2="795.5" stroke-width="0.48"/>
<line x1="276.5" y1="794.2" x2="307.5" y2="805.5" stroke-width="0.48"/>
<line x1="276.5" y1="794.2" x2="255" y2="816.7" stroke-width="0.48"/>
<line x1="276.5" y1="794.2" x2="284.5" y2="818.9" stroke-width="0.48"/>
<line x1="276.5" y1="794.2" x2="336.1" y2="818.6" stroke-width="0.48"/>
<line x1="276.5" y1="794.2" x2="320.2" y2="829.2" stroke-width="0.48"/>
<line x1="276.5" y1="794.2" x2="271" y2="843.9" stroke-width="0.48"/>
<line x1="276.5" y1="794.2" x2="306.2" y2="842.5" stroke-width="0.48"/>
<line x1="276.5" y1="794.2" x2="287.9" y2="857.5" stroke-width="0.48"/>
<line x1="332.3" y1="795.5" x2="307.5" y2="805.5" stroke-width="0.48"/>
<line x1="332.3" y1="795.5" x2="255" y2="816.7" stroke-width="0.48"/>
<line x1="332.3" y1="795.5" x2="284.5" y2="818.9" stroke-width="0.48"/>
<line x1="332.3" y1="795.5" x2="336.1" y2="818.6" stroke-width="0.48"/>
<line x1="332.3" y1="795.5" x2="320.2" y2="829.2" stroke-width="0.48"/>
<line x1="332.3" y1="795.5" x2="271" y2="843.9" stroke-width="0.48"/>
<line x1="332.3" y1="795.5" x2="306.2" y2="842.5" stroke-width="0.48"/>
<line x1="332.3" y1="795.5" x2="287.9" y2="857.5" stroke-width="0.48"/>
<line x1="307.5" y1="805.5" x2="255" y2="816.7" stroke-width="0.48"/>
<line x1="307.5" y1="805.5" x2="284.5" y2="818.9" stroke-width="0.48"/>
<line x1="307.5" y1="805.5" x2="336.1" y2="818.6" stroke-width="0.48"/>
<line x1="307.5" y1="805.5" x2="320.2" y2="829.2" stroke-width="0.48"/>
<line x1="307.5" y1="805.5" x2="271" y2="843.9" stroke-width="0.48"/>
<line x1="307.5" y1="805.5" x2="306.2" y2="842.5" stroke-width="0.48"/>
<line x1="307.5" y1="805.5" x2="287.9" y2="857.5" stroke-width="0.48"/>
<line x1="255" y1="816.7" x2="284.5" y2="818.9" stroke-width="0.48"/>
<line x1="255" y1="816.7" x2="336.1" y2="818.6" stroke-width="0.48"/>
<line x1="255" y1="816.7" x2="320.2" y2="829.2" stroke-width="0.48"/>
<line x1="255" y1="816.7" x2="271" y2="843.9" stroke-width="0.48"/>
<line x1="255" y1="816.7" x2="306.2" y2="842.5" stroke-width="0.48"/>
<line x1="255" y1="816.7" x2="287.9" y2="857.5" stroke-width="0.48"/>
<line x1="284.5" y1="818.9" x2="336.1" y2="818.6" stroke-width="0.48"/>
<line x1="284.5" y1="818.9" x2="320.2" y2="829.2" stroke-width="0.48"/>
<line x1="284.5" y1="818.9" x2="271" y2="843.9" stroke-width="0.48"/>
<line x1="284.5" y1="818.9" x2="306.2" y2="842.5" stroke-width="0.48"/>
<line x1="284.5" y1="818.9" x2="287.9" y2="857.5" stroke-width="0.48"/>
<line x1="336.1" y1="818.6" x2="320.2" y2="829.2" stroke-width="0.48"/>
<line x1="336.1" y1="818.6" x2="271" y2="843.9" stroke-width="0.48"/>
<line x1="336.1" y1="818.6" x2="306.2" y2="842.5" stroke-width="0.48"/>
<line x1="336.1" y1="818.6" x2="287.9" y2="857.5" stroke-width="0.48"/>
<line x1="320.2" y1="829.2" x2="271" y2="843.9" stroke-width="0.48"/>
<line x1="320.2" y1="829.2" x2="306.2" y2="842.5" stroke-width="0.48"/>
<line x1="320.2" y1="829.2" x2="287.9" y2="857.5" stroke-width="0.48"/>
<line x1="271" y1="843.9" x2="306.2" y2="842.5" stroke-width="0.48"/>
<line x1="271" y1="843.9" x2="287.9" y2="857.5" stroke-width="0.48"/>
<line x1="306.2" y1="842.5" x2="287.9" y2="857.5" stroke-width="0.48"/>
<line x1="306.2" y1="842.5" x2="329.4" y2="770.5" stroke-width="2"/>
<line x1="306.2" y1="842.5" x2="305.7" y2="781.2" stroke-width="2"/>
<line x1="306.2" y1="842.5" x2="276.5" y2="794.2" stroke-width="2"/>
<line x1="306.2" y1="842.5" x2="332.3" y2="795.5" stroke-width="2"/>
<line x1="306.2" y1="842.5" x2="307.5" y2="805.5" stroke-width="2"/>
<line x1="306.2" y1="842.5" x2="255" y2="816.7" stroke-width="2"/>
<line x1="306.2" y1="842.5" x2="284.5" y2="818.9" stroke-width="2"/>
<line x1="306.2" y1="842.5" x2="336.1" y2="818.6" stroke-width="2"/>
<line x1="306.2" y1="842.5" x2="320.2" y2="829.2" stroke-width="2"/>
<line x1="306.2" y1="842.5" x2="271" y2="843.9" stroke-width="2"/>
<line x1="306.2" y1="842.5" x2="287.9" y2="857.5" stroke-width="2"/>
<line x1="329.4" y1="770.5" x2="305.7" y2="781.2" stroke-width="3"/>
<line x1="329.4" y1="770.5" x2="332.3" y2="795.5" stroke-width="3"/>
<line x1="329.4" y1="770.5" x2="307.5" y2="805.5" stroke-width="2.5"/>
<line x1="255" y1="816.7" x2="284.5" y2="818.9" stroke-width="2"/>
<line x1="255" y1="816.7" x2="306.2" y2="842.5" stroke-width="2"/>
<line x1="255" y1="816.7" x2="287.9" y2="857.5" stroke-width="1.5"/>
<line x1="301" y1="566.4" x2="256.4" y2="620.4" stroke-width="0.6"/>
<line x1="329.4" y1="770.5" x2="305.7" y2="781.2" stroke-width="1.5"/>
<line x1="329.4" y1="770.5" x2="332.3" y2="795.5" stroke-width="1.5"/>
<line x1="329.4" y1="770.5" x2="307.5" y2="805.5" stroke-width="1.5"/>
<line x1="329.4" y1="770.5" x2="336.1" y2="818.6" stroke-width="1.5"/>
<line x1="329.4" y1="770.5" x2="320.2" y2="829.2" stroke-width="1.5"/>
<line x1="329.4" y1="770.5" x2="306.2" y2="842.5" stroke-width="1.5"/>
<line x1="329.4" y1="770.5" x2="284.5" y2="818.9" stroke-width="1.5"/>
<line x1="305.7" y1="781.2" x2="332.3" y2="795.5" stroke-width="1.5"/>
<line x1="305.7" y1="781.2" x2="307.5" y2="805.5" stroke-width="1.5"/>
<line x1="305.7" y1="781.2" x2="336.1" y2="818.6" stroke-width="1.5"/>
<line x1="305.7" y1="781.2" x2="320.2" y2="829.2" stroke-width="1.5"/>
<line x1="305.7" y1="781.2" x2="306.2" y2="842.5" stroke-width="1.5"/>
<line x1="305.7" y1="781.2" x2="284.5" y2="818.9" stroke-width="1.5"/>
<line x1="332.3" y1="795.5" x2="307.5" y2="805.5" stroke-width="1.5"/>
<line x1="332.3" y1="795.5" x2="336.1" y2="818.6" stroke-width="1.5"/>
<line x1="332.3" y1="795.5" x2="320.2" y2="829.2" stroke-width="1.5"/>
<line x1="332.3" y1="795.5" x2="306.2" y2="842.5" stroke-width="1.5"/>
<line x1="332.3" y1="795.5" x2="284.5" y2="818.9" stroke-width="1.5"/>
<line x1="307.5" y1="805.5" x2="336.1" y2="818.6" stroke-width="1.5"/>
<line x1="307.5" y1="805.5" x2="320.2" y2="829.2" stroke-width="1.5"/>
<line x1="307.5" y1="805.5" x2="306.2" y2="842.5" stroke-width="1.5"/>
<line x1="307.5" y1="805.5" x2="284.5" y2="818.9" stroke-width="1.5"/>
<line x1="336.1" y1="818.6" x2="320.2" y2="829.2" stroke-width="1.5"/>
<line x1="336.1" y1="818.6" x2="306.2" y2="842.5" stroke-width="1.5"/>
<line x1="336.1" y1="818.6" x2="284.5" y2="818.9" stroke-width="1.5"/>
<line x1="320.2" y1="829.2" x2="306.2" y2="842.5" stroke-width="1.5"/>
<line x1="320.2" y1="829.2" x2="284.5" y2="818.9" stroke-width="1.5"/>
<line x1="306.2" y1="842.5" x2="284.5" y2="818.9" stroke-width="1.5"/>
</g>
<circle cx="209.2" cy="547.2" r="7.6" fill="#1AB3B8"/>
<circle cx="221" cy="570.2" r="7.6" fill="#A88C00"/>
<circle cx="186.4" cy="572.5" r="7.6" fill="#A88C00"/>
<circle cx="156.9" cy="579.2" r="7.6" fill="#EE48DD"/>
<circle cx="124.4" cy="591.5" r="7.6" fill="#1DB233"/>
<circle cx="144" cy="604.9" r="7.6" fill="#EE48DD"/>
<circle cx="190.5" cy="608.4" r="7.6" fill="#A88C00"/>
<circle cx="129.5" cy="627.2" r="7.6" fill="#EE48DD"/>
<circle cx="179.9" cy="641.7" r="7.6" fill="#A88C00"/>
<circle cx="99.7" cy="664.2" r="7.6" fill="#EE48DD"/>
<circle cx="256.9" cy="571" r="7.6" fill="#1AB3B8"/>
<circle cx="276.9" cy="562.7" r="7.6" fill="#1DB233"/>
<circle cx="301" cy="566.4" r="7.6" fill="#1AB3B8"/>
<circle cx="315.7" cy="581.5" r="7.6" fill="#1AB3B8"/>
<circle cx="330.7" cy="604.9" r="7.6" fill="#1DB233"/>
<circle cx="256.4" cy="620.4" r="7.6" fill="#1AB3B8"/>
<circle cx="279.2" cy="620.4" r="7.6" fill="#1AB3B8"/>
<circle cx="303.5" cy="625.9" r="7.6" fill="#1AB3B8"/>
<circle cx="350.4" cy="624.5" r="7.6" fill="#1AB3B8"/>
<circle cx="323.4" cy="635.9" r="7.6" fill="#1AB3B8"/>
<circle cx="346.4" cy="660.2" r="7.6" fill="#1AB3B8"/>
<circle cx="233" cy="704.2" r="7.6" fill="#F0605A"/>
<circle cx="239.4" cy="703.1" r="7.6" fill="#F0605A"/>
<circle cx="291.9" cy="683" r="7.6" fill="#F0605A"/>
<circle cx="286" cy="707.9" r="7.6" fill="#F0605A"/>
<circle cx="310" cy="713.2" r="7.6" fill="#F0605A"/>
<circle cx="275.9" cy="738.4" r="7.6" fill="#F0605A"/>
<circle cx="252.3" cy="753.9" r="7.6" fill="#F0605A"/>
<circle cx="329.4" cy="770.5" r="7.6" fill="#A88C00"/>
<circle cx="350.7" cy="771.2" r="7.6" fill="#1DB233"/>
<circle cx="305.7" cy="781.2" r="7.6" fill="#A88C00"/>
<circle cx="276.5" cy="794.2" r="7.6" fill="#A88C00"/>
<circle cx="332.3" cy="795.5" r="7.6" fill="#EE48DD"/>
<circle cx="307.5" cy="805.5" r="7.6" fill="#A88C00"/>
<circle cx="255" cy="816.7" r="7.6" fill="#EE48DD"/>
<circle cx="284.5" cy="818.9" r="7.6" fill="#A88C00"/>
<circle cx="336.1" cy="818.6" r="7.6" fill="#A88C00"/>
<circle cx="320.2" cy="829.2" r="7.6" fill="#A88C00"/>
<circle cx="271" cy="843.9" r="7.6" fill="#A88C00"/>
<circle cx="306.2" cy="842.5" r="7.6" fill="#EE48DD"/>
<circle cx="287.9" cy="857.5" r="7.6" fill="#A88C00"/>
<circle cx="131.2" cy="712.7" r="7.6" fill="#5287FA"/>
<circle cx="160" cy="712.7" r="7.6" fill="#5287FA"/>
<circle cx="113.9" cy="740.2" r="7.6" fill="#EE48DD"/>
<circle cx="161.2" cy="736.9" r="7.6" fill="#1AB3B8"/>
<circle cx="134.2" cy="745.9" r="7.6" fill="#5287FA"/>
<circle cx="174.7" cy="750.7" r="7.6" fill="#EE48DD"/>
<circle cx="115.5" cy="767.2" r="7.6" fill="#EE48DD"/>
<circle cx="144.4" cy="765.2" r="7.6" fill="#EE48DD"/>
<circle cx="129.2" cy="782.5" r="7.6" fill="#5287FA"/>
<circle cx="171.2" cy="783.9" r="7.6" fill="#1AB3B8"/>
<circle cx="145.4" cy="789.7" r="7.6" fill="#1AB3B8"/>
<circle cx="178.7" cy="806.5" r="7.6" fill="#5287FA"/>
<circle cx="153.5" cy="819.4" r="7.6" fill="#1DB233"/>
<text x="164.43" y="517.7" font-size="27" font-weight="bold" textLength="120.47" lengthAdjust="spacingAndGlyphs">Wednesday</text>
</g>
<g>
<g stroke="#000" stroke-opacity="0.2" stroke-linecap="butt">
<line x1="447.2" y1="579.2" x2="414.7" y2="591.5" stroke-width="8"/>
<line x1="447.2" y1="579.2" x2="414.7" y2="591.5" stroke-width="4"/>
<line x1="447.2" y1="579.2" x2="414.7" y2="591.5" stroke-width="2"/>
<line x1="434.3" y1="604.9" x2="419.8" y2="627.2" stroke-width="5"/>
<line x1="434.3" y1="604.9" x2="419.8" y2="627.2" stroke-width="3"/>
<line x1="414.7" y1="591.5" x2="419.8" y2="627.2" stroke-width="2.5"/>
<line x1="447.2" y1="579.2" x2="434.3" y2="604.9" stroke-width="0.6"/>
<line x1="476.7" y1="572.5" x2="447.2" y2="579.2" stroke-width="2"/>
<line x1="511.3" y1="570.2" x2="476.7" y2="572.5" stroke-width="2"/>
<line x1="511.3" y1="570.2" x2="567.2" y2="562.7" stroke-width="2"/>
<line x1="499.5" y1="547.2" x2="511.3" y2="570.2" stroke-width="2"/>
<line x1="476.7" y1="572.5" x2="480.8" y2="608.4" stroke-width="5"/>
<line x1="476.7" y1="572.5" x2="480.8" y2="608.4" stroke-width="2"/>
<line x1="480.8" y1="608.4" x2="450.3" y2="712.7" stroke-width="0.6"/>
<line x1="470.2" y1="641.7" x2="469" y2="806.5" stroke-width="0.6"/>
<line x1="419.8" y1="627.2" x2="450.3" y2="712.7" stroke-width="0.6"/>
<line x1="523.3" y1="704.2" x2="499.5" y2="547.2" stroke-width="0.6"/>
<line x1="529.7" y1="703.1" x2="499.5" y2="547.2" stroke-width="0.6"/>
<line x1="523.3" y1="704.2" x2="511.3" y2="570.2" stroke-width="0.6"/>
<line x1="529.7" y1="703.1" x2="511.3" y2="570.2" stroke-width="0.6"/>
<line x1="523.3" y1="704.2" x2="476.7" y2="572.5" stroke-width="0.6"/>
<line x1="529.7" y1="703.1" x2="476.7" y2="572.5" stroke-width="0.6"/>
<line x1="523.3" y1="704.2" x2="447.2" y2="579.2" stroke-width="0.6"/>
<line x1="529.7" y1="703.1" x2="447.2" y2="579.2" stroke-width="0.6"/>
<line x1="523.3" y1="704.2" x2="414.7" y2="591.5" stroke-width="0.6"/>
<line x1="523.3" y1="704.2" x2="434.3" y2="604.9" stroke-width="0.6"/>
<line x1="529.7" y1="703.1" x2="434.3" y2="604.9" stroke-width="0.6"/>
<line x1="523.3" y1="704.2" x2="480.8" y2="608.4" stroke-width="0.6"/>
<line x1="529.7" y1="703.1" x2="480.8" y2="608.4" stroke-width="0.6"/>
<line x1="523.3" y1="704.2" x2="419.8" y2="627.2" stroke-width="0.6"/>
<line x1="529.7" y1="703.1" x2="419.8" y2="627.2" stroke-width="0.6"/>
<line x1="523.3" y1="704.2" x2="470.2" y2="641.7" stroke-width="0.6"/>
<line x1="529.7" y1="703.1" x2="470.2" y2="641.7" stroke-width="0.6"/>
<line x1="523.3" y1="704.2" x2="390" y2="664.2" stroke-width="0.6"/>
<line x1="529.7" y1="703.1" x2="390" y2="664.2" stroke-width="0.6"/>
<line x1="523.3" y1="704.2" x2="476.7" y2="572.5" stroke-width="0.6"/>
<line x1="523.3" y1="704.2" x2="434.3" y2="604.9" stroke-width="0.6"/>
<line x1="523.3" y1="704.2" x2="480.8" y2="608.4" stroke-width="0.6"/>
<line x1="523.3" y1="704.2" x2="419.8" y2="627.2" stroke-width="0.6"/>
<line x1="523.3" y1="704.2" x2="470.2" y2="641.7" stroke-width="0.6"/>
<line x1="470.2" y1="641.7" x2="450.3" y2="712.7" stroke-width="0.6"/>
<line x1="480.8" y1="608.4" x2="461.5" y2="783.9" stroke-width="0.6"/>
<line x1="567.2" y1="562.7" x2="606" y2="581.5" stroke-width="0.6"/>
<line x1="567.2" y1="562.7" x2="621" y2="604.9" stroke-width="0.6"/>
<line x1="567.2" y1="562.7" x2="593.8" y2="625.9" stroke-width="0.6"/>
<line x1="567.2" y1="562.7" x2="613.7" y2="635.9" stroke-width="0.6"/>
<line x1="567.2" y1="562.7" x2="569.5" y2="620.4" stroke-width="0.6"/>
<line x1="547.2" y1="571" x2="606" y2="581.5" stroke-width="0.6"/>
<line x1="547.2" y1="571" x2="621" y2="604.9" stroke-width="0.6"/>
<line x1="547.2" y1="571" x2="593.8" y2="625.9" stroke-width="0.6"/>
<line x1="547.2" y1="571" x2="613.7" y2="635.9" stroke-width="0.6"/>
<line x1="591.3" y1="566.4" x2="606" y2="581.5" stroke-width="0.6"/>
<line x1="591.3" y1="566.4" x2="593.8" y2="625.9" stroke-width="0.6"/>
<line x1="621" y1="604.9" x2="546.7" y2="620.4" stroke-width="2.5"/>
<line x1="621" y1="604.9" x2="569.5" y2="620.4" stroke-width="2.5"/>
<line x1="621" y1="604.9" x2="593.8" y2="625.9" stroke-width="3"/>
<line x1="621" y1="604.9" x2="613.7" y2="635.9" stroke-width="4"/>
<line x1="621" y1="604.9" x2="636.7" y2="660.2" stroke-width="3"/>
<line x1="606" y1="581.5" x2="621" y2="604.9" stroke-width="0.6"/>
<line x1="591.3" y1="566.4" x2="621" y2="604.9" stroke-width="0.6"/>
<line x1="636.7" y1="660.2" x2="641" y2="771.2" stroke-width="3"/>
<line x1="636.7" y1="660.2" x2="641" y2="771.2" stroke-width="0.6"/>
<line x1="640.7" y1="624.5" x2="613.7" y2="635.9" stroke-width="0.6"/>
<line x1="636.7" y1="660.2" x2="582.2" y2="683" stroke-width="0.6"/>
<line x1="523.3" y1="704.2" x2="547.2" y2="571" stroke-width="0.6"/>
<line x1="529.7" y1="703.1" x2="547.2" y2="571" stroke-width="0.6"/>
<line x1="523.3" y1="704.2" x2="567.2" y2="562.7" stroke-width="0.6"/>
<line x1="529.7" y1="703.1" x2="567.2" y2="562.7" stroke-width="0.6"/>
<line x1="523.3" y1="704.2" x2="591.3" y2="566.4" stroke-width="0.6"/>
<line x1="529.7" y1="703.1" x2="591.3" y2="566.4" stroke-width="0.6"/>
<line x1="523.3" y1="704.2" x2="606" y2="581.5" stroke-width="0.6"/>
<line x1="529.7" y1="703.1" x2="606" y2="581.5" stroke-width="0.6"/>
<line x1="523.3" y1="704.2" x2="546.7" y2="620.4" stroke-width="0.6"/>
<line x1="529.7" y1="703.1" x2="546.7" y2="620.4" stroke-width="0.6"/>
<line x1="523.3" y1="704.2" x2="569.5" y2="620.4" stroke-width="0.6"/>
<line x1="529.7" y1="703.1" x2="569.5" y2="620.4" stroke-width="0.6"/>
<line x1="523.3" y1="704.2" x2="593.8" y2="625.9" stroke-width="0.6"/>
<line x1="529.7" y1="703.1" x2="593.8" y2="625.9" stroke-width="0.6"/>
<line x1="523.3" y1="704.2" x2="613.7" y2="635.9" stroke-width="0.6"/>
<line x1="529.7" y1="703.1" x2="613.7" y2="635.9" stroke-width="0.6"/>
<line x1="529.7" y1="703.1" x2="640.7" y2="624.5" stroke-width="0.6"/>
<line x1="523.3" y1="704.2" x2="621" y2="604.9" stroke-width="0.6"/>
<line x1="523.3" y1="704.2" x2="582.2" y2="683" stroke-width="8"/>
<line x1="529.7" y1="703.1" x2="582.2" y2="683" stroke-width="8"/>
<line x1="523.3" y1="704.2" x2="576.3" y2="707.9" stroke-width="8"/>
<line x1="529.7" y1="703.1" x2="576.3" y2="707.9" stroke-width="8"/>
<line x1="523.3" y1="704.2" x2="576.3" y2="707.9" stroke-width="4"/>
<line x1="529.7" y1="703.1" x2="576.3" y2="707.9" stroke-width="4"/>
<line x1="523.3" y1="704.2" x2="600.3" y2="713.2" stroke-width="6"/>
<line x1="529.7" y1="703.1" x2="600.3" y2="713.2" stroke-width="6"/>
<line x1="576.3" y1="707.9" x2="542.6" y2="753.9" stroke-width="7"/>
<line x1="576.3" y1="707.9" x2="542.6" y2="753.9" stroke-width="3"/>
<line x1="523.3" y1="704.2" x2="566.2" y2="738.4" stroke-width="7"/>
<line x1="529.7" y1="703.1" x2="566.2" y2="738.4" stroke-width="7"/>
<line x1="523.3" y1="704.2" x2="566.2" y2="738.4" stroke-width="3"/>
<line x1="523.3" y1="704.2" x2="542.6" y2="753.9" stroke-width="10"/>
<line x1="529.7" y1="703.1" x2="542.6" y2="753.9" stroke-width="10"/>
<line x1="523.3" y1="704.2" x2="542.6" y2="753.9" stroke-width="4"/>
<line x1="600.3" y1="713.2" x2="542.6" y2="753.9" stroke-width="1.2"/>
<line x1="600.3" y1="713.2" x2="542.6" y2="753.9" stroke-width="1.2"/>
<line x1="582.2" y1="683" x2="576.3" y2="707.9" stroke-width="0.6"/>
<line x1="582.2" y1="683" x2="600.3" y2="713.2" stroke-width="0.6"/>
<line x1="566.2" y1="738.4" x2="542.6" y2="753.9" stroke-width="0.6"/>
<line x1="523.3" y1="704.2" x2="619.7" y2="770.5" stroke-width="0.6"/>
<line x1="529.7" y1="703.1" x2="619.7" y2="770.5" stroke-width="0.6"/>
<line x1="523.3" y1="704.2" x2="641" y2="771.2" stroke-width="0.6"/>
<line x1="529.7" y1="703.1" x2="641" y2="771.2" stroke-width="0.6"/>
<line x1="523.3" y1="704.2" x2="596" y2="781.2" stroke-width="0.6"/>
<line x1="529.7" y1="703.1" x2="596" y2="781.2" stroke-width="0.6"/>
<line x1="523.3" y1="704.2" x2="566.8" y2="794.2" stroke-width="0.6"/>
<line x1="529.7" y1="703.1" x2="566.8" y2="794.2" stroke-width="0.6"/>
<line x1="523.3" y1="704.2" x2="622.6" y2="795.5" stroke-width="0.6"/>
<line x1="529.7" y1="703.1" x2="622.6" y2="795.5" stroke-width="0.6"/>
<line x1="523.3" y1="704.2" x2="597.8" y2="805.5" stroke-width="0.6"/>
<line x1="529.7" y1="703.1" x2="597.8" y2="805.5" stroke-width="0.6"/>
<line x1="523.3" y1="704.2" x2="545.3" y2="816.7" stroke-width="0.6"/>
<line x1="529.7" y1="703.1" x2="545.3" y2="816.7" stroke-width="0.6"/>
<line x1="523.3" y1="704.2" x2="574.8" y2="818.9" stroke-width="0.6"/>
<line x1="529.7" y1="703.1" x2="574.8" y2="818.9" stroke-width="0.6"/>
<line x1="523.3" y1="704.2" x2="626.4" y2="818.6" stroke-width="0.6"/>
<line x1="529.7" y1="703.1" x2="626.4" y2="818.6" stroke-width="0.6"/>
<line x1="523.3" y1="704.2" x2="610.5" y2="829.2" stroke-width="0.6"/>
<line x1="529.7" y1="703.1" x2="610.5" y2="829.2" stroke-width="0.6"/>
<line x1="523.3" y1="704.2" x2="561.3" y2="843.9" stroke-width="0.6"/>
<line x1="529.7" y1="703.1" x2="561.3" y2="843.9" stroke-width="0.6"/>
<line x1="523.3" y1="704.2" x2="596.5" y2="842.5" stroke-width="0.6"/>
<line x1="529.7" y1="703.1" x2="596.5" y2="842.5" stroke-width="0.6"/>
<line x1="523.3" y1="704.2" x2="578.2" y2="857.5" stroke-width="0.6"/>
<line x1="529.7" y1="703.1" x2="578.2" y2="857.5" stroke-width="0.6"/>
<line x1="596" y1="781.2" x2="566.8" y2="794.2" stroke-width="3"/>
<line x1="545.3" y1="816.7" x2="574.8" y2="818.9" stroke-width="2.5"/>
<line x1="566.8" y1="794.2" x2="561.3" y2="843.9" stroke-width="4"/>
<line x1="561.3" y1="843.9" x2="596.5" y2="842.5" stroke-width="2"/>
<line x1="597.8" y1="805.5" x2="561.3" y2="843.9" stroke-width="1.5"/>
<line x1="597.8" y1="805.5" x2="596.5" y2="842.5" stroke-width="1.5"/>
<line x1="596" y1="781.2" x2="597.8" y2="805.5" stroke-width="1.5"/>
<line x1="597.8" y1="805.5" x2="626.4" y2="818.6" stroke-width="1.5"/>
<line x1="622.6" y1="795.5" x2="597.8" y2="805.5" stroke-width="1.5"/>
<line x1="622.6" y1="795.5" x2="626.4" y2="818.6" stroke-width="2"/>
<line x1="619.7" y1="770.5" x2="622.6" y2="795.5" stroke-width="0.6"/>
<line x1="641" y1="771.2" x2="622.6" y2="795.5" stroke-width="0.6"/>
<line x1="574.8" y1="818.9" x2="596.5" y2="842.5" stroke-width="1.5"/>
<line x1="610.5" y1="829.2" x2="596.5" y2="842.5" stroke-width="1.5"/>
<line x1="597.8" y1="805.5" x2="574.8" y2="818.9" stroke-width="1.5"/>
<line x1="566.8" y1="794.2" x2="597.8" y2="805.5" stroke-width="1.5"/>
<line x1="545.3" y1="816.7" x2="561.3" y2="843.9" stroke-width="1.5"/>
<line x1="561.3" y1="843.9" x2="578.2" y2="857.5" stroke-width="0.6"/>
<line x1="596.5" y1="842.5" x2="578.2" y2="857.5" stroke-width="0.6"/>
<line x1="574.8" y1="818.9" x2="561.3" y2="843.9" stroke-width="1.5"/>
<line x1="566.8" y1="794.2" x2="574.8" y2="818.9" stroke-width="1.5"/>
<line x1="596" y1="781.2" x2="574.8" y2="818.9" stroke-width="0.6"/>
<line x1="574.8" y1="818.9" x2="626.4" y2="818.6" stroke-width="0.6"/>
<line x1="610.5" y1="829.2" x2="561.3" y2="843.9" stroke-width="0.6"/>
<line x1="596" y1="781.2" x2="566.8" y2="794.2" stroke-width="1.2"/>
<line x1="596" y1="781.2" x2="597.8" y2="805.5" stroke-width="1.2"/>
<line x1="596" y1="781.2" x2="545.3" y2="816.7" stroke-width="1.2"/>
<line x1="596" y1="781.2" x2="574.8" y2="818.9" stroke-width="1.2"/>
<line x1="596" y1="781.2" x2="626.4" y2="818.6" stroke-width="1.2"/>
<line x1="596" y1="781.2" x2="610.5" y2="829.2" stroke-width="1.2"/>
<line x1="596" y1="781.2" x2="561.3" y2="843.9" stroke-width="1.2"/>
<line x1="596" y1="781.2" x2="596.5" y2="842.5" stroke-width="1.2"/>
<line x1="596" y1="781.2" x2="578.2" y2="857.5" stroke-width="1.2"/>
<line x1="596" y1="781.2" x2="622.6" y2="795.5" stroke-width="1.2"/>
<line x1="566.8" y1="794.2" x2="597.8" y2="805.5" stroke-width="1.2"/>
<line x1="566.8" y1="794.2" x2="545.3" y2="816.7" stroke-width="1.2"/>
<line x1="566.8" y1="794.2" x2="574.8" y2="818.9" stroke-width="1.2"/>
<line x1="566.8" y1="794.2" x2="626.4" y2="818.6" stroke-width="1.2"/>
<line x1="566.8" y1="794.2" x2="610.5" y2="829.2" stroke-width="1.2"/>
<line x1="566.8" y1="794.2" x2="561.3" y2="843.9" stroke-width="1.2"/>
<line x1="566.8" y1="794.2" x2="596.5" y2="842.5" stroke-width="1.2"/>
<line x1="566.8" y1="794.2" x2="578.2" y2="857.5" stroke-width="1.2"/>
<line x1="566.8" y1="794.2" x2="622.6" y2="795.5" stroke-width="1.2"/>
<line x1="597.8" y1="805.5" x2="545.3" y2="816.7" stroke-width="1.2"/>
<line x1="597.8" y1="805.5" x2="574.8" y2="818.9" stroke-width="1.2"/>
<line x1="597.8" y1="805.5" x2="626.4" y2="818.6" stroke-width="1.2"/>
<line x1="597.8" y1="805.5" x2="610.5" y2="829.2" stroke-width="1.2"/>
<line x1="597.8" y1="805.5" x2="561.3" y2="843.9" stroke-width="1.2"/>
<line x1="597.8" y1="805.5" x2="596.5" y2="842.5" stroke-width="1.2"/>
<line x1="597.8" y1="805.5" x2="578.2" y2="857.5" stroke-width="1.2"/>
<line x1="597.8" y1="805.5" x2="622.6" y2="795.5" stroke-width="1.2"/>
<line x1="545.3" y1="816.7" x2="574.8" y2="818.9" stroke-width="1.2"/>
<line x1="545.3" y1="816.7" x2="626.4" y2="818.6" stroke-width="1.2"/>
<line x1="545.3" y1="816.7" x2="610.5" y2="829.2" stroke-width="1.2"/>
<line x1="545.3" y1="816.7" x2="561.3" y2="843.9" stroke-width="1.2"/>
<line x1="545.3" y1="816.7" x2="596.5" y2="842.5" stroke-width="1.2"/>
<line x1="545.3" y1="816.7" x2="578.2" y2="857.5" stroke-width="1.2"/>
<line x1="545.3" y1="816.7" x2="622.6" y2="795.5" stroke-width="1.2"/>
<line x1="574.8" y1="818.9" x2="626.4" y2="818.6" stroke-width="1.2"/>
<line x1="574.8" y1="818.9" x2="610.5" y2="829.2" stroke-width="1.2"/>
<line x1="574.8" y1="818.9" x2="561.3" y2="843.9" stroke-width="1.2"/>
<line x1="574.8" y1="818.9" x2="596.5" y2="842.5" stroke-width="1.2"/>
<line x1="574.8" y1="818.9" x2="578.2" y2="857.5" stroke-width="1.2"/>
<line x1="574.8" y1="818.9" x2="622.6" y2="795.5" stroke-width="1.2"/>
<line x1="626.4" y1="818.6" x2="610.5" y2="829.2" stroke-width="1.2"/>
<line x1="626.4" y1="818.6" x2="561.3" y2="843.9" stroke-width="1.2"/>
<line x1="626.4" y1="818.6" x2="596.5" y2="842.5" stroke-width="1.2"/>
<line x1="626.4" y1="818.6" x2="578.2" y2="857.5" stroke-width="1.2"/>
<line x1="626.4" y1="818.6" x2="622.6" y2="795.5" stroke-width="1.2"/>
<line x1="610.5" y1="829.2" x2="561.3" y2="843.9" stroke-width="1.2"/>
<line x1="610.5" y1="829.2" x2="596.5" y2="842.5" stroke-width="1.2"/>
<line x1="610.5" y1="829.2" x2="578.2" y2="857.5" stroke-width="1.2"/>
<line x1="610.5" y1="829.2" x2="622.6" y2="795.5" stroke-width="1.2"/>
<line x1="561.3" y1="843.9" x2="596.5" y2="842.5" stroke-width="1.2"/>
<line x1="561.3" y1="843.9" x2="578.2" y2="857.5" stroke-width="1.2"/>
<line x1="561.3" y1="843.9" x2="622.6" y2="795.5" stroke-width="1.2"/>
<line x1="596.5" y1="842.5" x2="578.2" y2="857.5" stroke-width="1.2"/>
<line x1="596.5" y1="842.5" x2="622.6" y2="795.5" stroke-width="1.2"/>
<line x1="578.2" y1="857.5" x2="622.6" y2="795.5" stroke-width="1.2"/>
<line x1="574.8" y1="818.9" x2="596" y2="781.2" stroke-width="1.5"/>
<line x1="574.8" y1="818.9" x2="566.8" y2="794.2" stroke-width="1.5"/>
<line x1="574.8" y1="818.9" x2="597.8" y2="805.5" stroke-width="1.5"/>
<line x1="574.8" y1="818.9" x2="545.3" y2="816.7" stroke-width="1.5"/>
<line x1="574.8" y1="818.9" x2="626.4" y2="818.6" stroke-width="1.5"/>
<line x1="574.8" y1="818.9" x2="610.5" y2="829.2" stroke-width="1.5"/>
<line x1="574.8" y1="818.9" x2="561.3" y2="843.9" stroke-width="1.5"/>
<line x1="574.8" y1="818.9" x2="596.5" y2="842.5" stroke-width="1.5"/>
<line x1="574.8" y1="818.9" x2="578.2" y2="857.5" stroke-width="1.5"/>
<line x1="421.5" y1="712.7" x2="450.3" y2="712.7" stroke-width="1.5"/>
<line x1="421.5" y1="712.7" x2="404.2" y2="740.2" stroke-width="1.5"/>
<line x1="421.5" y1="712.7" x2="451.5" y2="736.9" stroke-width="1.5"/>
<line x1="421.5" y1="712.7" x2="424.5" y2="745.9" stroke-width="1.5"/>
<line x1="421.5" y1="712.7" x2="465" y2="750.7" stroke-width="1.5"/>
<line x1="421.5" y1="712.7" x2="405.8" y2="767.2" stroke-width="1.5"/>
<line x1="421.5" y1="712.7" x2="434.7" y2="765.2" stroke-width="1.5"/>
<line x1="421.5" y1="712.7" x2="419.5" y2="782.5" stroke-width="1.5"/>
<line x1="421.5" y1="712.7" x2="461.5" y2="783.9" stroke-width="1.5"/>
<line x1="421.5" y1="712.7" x2="435.7" y2="789.7" stroke-width="1.5"/>
<line x1="421.5" y1="712.7" x2="469" y2="806.5" stroke-width="1.5"/>
<line x1="421.5" y1="712.7" x2="443.8" y2="819.4" stroke-width="1.5"/>
<line x1="450.3" y1="712.7" x2="404.2" y2="740.2" stroke-width="1.5"/>
<line x1="450.3" y1="712.7" x2="451.5" y2="736.9" stroke-width="1.5"/>
<line x1="450.3" y1="712.7" x2="424.5" y2="745.9" stroke-width="1.5"/>
<line x1="450.3" y1="712.7" x2="465" y2="750.7" stroke-width="1.5"/>
<line x1="450.3" y1="712.7" x2="405.8" y2="767.2" stroke-width="1.5"/>
<line x1="450.3" y1="712.7" x2="434.7" y2="765.2" stroke-width="1.5"/>
<line x1="450.3" y1="712.7" x2="419.5" y2="782.5" stroke-width="1.5"/>
<line x1="450.3" y1="712.7" x2="461.5" y2="783.9" stroke-width="1.5"/>
<line x1="450.3" y1="712.7" x2="435.7" y2="789.7" stroke-width="1.5"/>
<line x1="450.3" y1="712.7" x2="469" y2="806.5" stroke-width="1.5"/>
<line x1="450.3" y1="712.7" x2="443.8" y2="819.4" stroke-width="1.5"/>
<line x1="404.2" y1="740.2" x2="451.5" y2="736.9" stroke-width="1.5"/>
<line x1="404.2" y1="740.2" x2="424.5" y2="745.9" stroke-width="1.5"/>
<line x1="404.2" y1="740.2" x2="465" y2="750.7" stroke-width="1.5"/>
<line x1="404.2" y1="740.2" x2="405.8" y2="767.2" stroke-width="1.5"/>
<line x1="404.2" y1="740.2" x2="434.7" y2="765.2" stroke-width="1.5"/>
<line x1="404.2" y1="740.2" x2="419.5" y2="782.5" stroke-width="1.5"/>
<line x1="404.2" y1="740.2" x2="461.5" y2="783.9" stroke-width="1.5"/>
<line x1="404.2" y1="740.2" x2="435.7" y2="789.7" stroke-width="1.5"/>
<line x1="404.2" y1="740.2" x2="469" y2="806.5" stroke-width="1.5"/>
<line x1="404.2" y1="740.2" x2="443.8" y2="819.4" stroke-width="1.5"/>
<line x1="451.5" y1="736.9" x2="424.5" y2="745.9" stroke-width="1.5"/>
<line x1="451.5" y1="736.9" x2="465" y2="750.7" stroke-width="1.5"/>
<line x1="451.5" y1="736.9" x2="405.8" y2="767.2" stroke-width="1.5"/>
<line x1="451.5" y1="736.9" x2="434.7" y2="765.2" stroke-width="1.5"/>
<line x1="451.5" y1="736.9" x2="419.5" y2="782.5" stroke-width="1.5"/>
<line x1="451.5" y1="736.9" x2="461.5" y2="783.9" stroke-width="1.5"/>
<line x1="451.5" y1="736.9" x2="435.7" y2="789.7" stroke-width="1.5"/>
<line x1="451.5" y1="736.9" x2="469" y2="806.5" stroke-width="1.5"/>
<line x1="451.5" y1="736.9" x2="443.8" y2="819.4" stroke-width="1.5"/>
<line x1="424.5" y1="745.9" x2="465" y2="750.7" stroke-width="1.5"/>
<line x1="424.5" y1="745.9" x2="405.8" y2="767.2" stroke-width="1.5"/>
<line x1="424.5" y1="745.9" x2="434.7" y2="765.2" stroke-width="1.5"/>
<line x1="424.5" y1="745.9" x2="419.5" y2="782.5" stroke-width="1.5"/>
<line x1="424.5" y1="745.9" x2="461.5" y2="783.9" stroke-width="1.5"/>
<line x1="424.5" y1="745.9" x2="435.7" y2="789.7" stroke-width="1.5"/>
<line x1="424.5" y1="745.9" x2="469" y2="806.5" stroke-width="1.5"/>
<line x1="424.5" y1="745.9" x2="443.8" y2="819.4" stroke-width="1.5"/>
<line x1="465" y1="750.7" x2="405.8" y2="767.2" stroke-width="1.5"/>
<line x1="465" y1="750.7" x2="434.7" y2="765.2" stroke-width="1.5"/>
<line x1="465" y1="750.7" x2="419.5" y2="782.5" stroke-width="1.5"/>
<line x1="465" y1="750.7" x2="461.5" y2="783.9" stroke-width="1.5"/>
<line x1="465" y1="750.7" x2="435.7" y2="789.7" stroke-width="1.5"/>
<line x1="465" y1="750.7" x2="469" y2="806.5" stroke-width="1.5"/>
<line x1="465" y1="750.7" x2="443.8" y2="819.4" stroke-width="1.5"/>
<line x1="405.8" y1="767.2" x2="434.7" y2="765.2" stroke-width="1.5"/>
<line x1="405.8" y1="767.2" x2="419.5" y2="782.5" stroke-width="1.5"/>
<line x1="405.8" y1="767.2" x2="461.5" y2="783.9" stroke-width="1.5"/>
<line x1="405.8" y1="767.2" x2="435.7" y2="789.7" stroke-width="1.5"/>
<line x1="405.8" y1="767.2" x2="469" y2="806.5" stroke-width="1.5"/>
<line x1="405.8" y1="767.2" x2="443.8" y2="819.4" stroke-width="1.5"/>
<line x1="434.7" y1="765.2" x2="419.5" y2="782.5" stroke-width="1.5"/>
<line x1="434.7" y1="765.2" x2="461.5" y2="783.9" stroke-width="1.5"/>
<line x1="434.7" y1="765.2" x2="435.7" y2="789.7" stroke-width="1.5"/>
<line x1="434.7" y1="765.2" x2="469" y2="806.5" stroke-width="1.5"/>
<line x1="434.7" y1="765.2" x2="443.8" y2="819.4" stroke-width="1.5"/>
<line x1="419.5" y1="782.5" x2="461.5" y2="783.9" stroke-width="1.5"/>
<line x1="419.5" y1="782.5" x2="435.7" y2="789.7" stroke-width="1.5"/>
<line x1="419.5" y1="782.5" x2="469" y2="806.5" stroke-width="1.5"/>
<line x1="419.5" y1="782.5" x2="443.8" y2="819.4" stroke-width="1.5"/>
<line x1="461.5" y1="783.9" x2="435.7" y2="789.7" stroke-width="1.5"/>
<line x1="461.5" y1="783.9" x2="469" y2="806.5" stroke-width="1.5"/>
<line x1="461.5" y1="783.9" x2="443.8" y2="819.4" stroke-width="1.5"/>
<line x1="435.7" y1="789.7" x2="469" y2="806.5" stroke-width="1.5"/>
<line x1="435.7" y1="789.7" x2="443.8" y2="819.4" stroke-width="1.5"/>
<line x1="469" y1="806.5" x2="443.8" y2="819.4" stroke-width="1.5"/>
<line x1="421.5" y1="712.7" x2="424.5" y2="745.9" stroke-width="3"/>
<line x1="419.5" y1="782.5" x2="443.8" y2="819.4" stroke-width="4"/>
<line x1="450.3" y1="712.7" x2="434.7" y2="765.2" stroke-width="3"/>
<line x1="469" y1="806.5" x2="542.6" y2="753.9" stroke-width="0.6"/>
<line x1="450.3" y1="712.7" x2="451.5" y2="736.9" stroke-width="3"/>
<line x1="451.5" y1="736.9" x2="465" y2="750.7" stroke-width="2.5"/>
<line x1="465" y1="750.7" x2="461.5" y2="783.9" stroke-width="2.5"/>
<line x1="450.3" y1="712.7" x2="465" y2="750.7" stroke-width="2"/>
<line x1="404.2" y1="740.2" x2="405.8" y2="767.2" stroke-width="2"/>
<line x1="424.5" y1="745.9" x2="434.7" y2="765.2" stroke-width="2"/>
<line x1="443.8" y1="819.4" x2="450.3" y2="712.7" stroke-width="2"/>
<line x1="443.8" y1="819.4" x2="451.5" y2="736.9" stroke-width="2"/>
<line x1="443.8" y1="819.4" x2="465" y2="750.7" stroke-width="2"/>
<line x1="443.8" y1="819.4" x2="434.7" y2="765.2" stroke-width="2"/>
<line x1="443.8" y1="819.4" x2="461.5" y2="783.9" stroke-width="2"/>
<line x1="443.8" y1="819.4" x2="435.7" y2="789.7" stroke-width="2"/>
<line x1="443.8" y1="819.4" x2="469" y2="806.5" stroke-width="2"/>
<line x1="523.3" y1="704.2" x2="421.5" y2="712.7" stroke-width="0.6"/>
<line x1="529.7" y1="703.1" x2="421.5" y2="712.7" stroke-width="0.6"/>
<line x1="523.3" y1="704.2" x2="450.3" y2="712.7" stroke-width="0.6"/>
<line x1="529.7" y1="703.1" x2="450.3" y2="712.7" stroke-width="0.6"/>
<line x1="523.3" y1="704.2" x2="404.2" y2="740.2" stroke-width="0.6"/>
<line x1="529.7" y1="703.1" x2="404.2" y2="740.2" stroke-width="0.6"/>
<line x1="523.3" y1="704.2" x2="451.5" y2="736.9" stroke-width="0.6"/>
<line x1="529.7" y1="703.1" x2="451.5" y2="736.9" stroke-width="0.6"/>
<line x1="523.3" y1="704.2" x2="424.5" y2="745.9" stroke-width="0.6"/>
<line x1="529.7" y1="703.1" x2="424.5" y2="745.9" stroke-width="0.6"/>
<line x1="523.3" y1="704.2" x2="465" y2="750.7" stroke-width="0.6"/>
<line x1="529.7" y1="703.1" x2="465" y2="750.7" stroke-width="0.6"/>
<line x1="523.3" y1="704.2" x2="405.8" y2="767.2" stroke-width="0.6"/>
<line x1="529.7" y1="703.1" x2="405.8" y2="767.2" stroke-width="0.6"/>
<line x1="523.3" y1="704.2" x2="434.7" y2="765.2" stroke-width="0.6"/>
<line x1="529.7" y1="703.1" x2="434.7" y2="765.2" stroke-width="0.6"/>
<line x1="523.3" y1="704.2" x2="419.5" y2="782.5" stroke-width="0.6"/>
<line x1="529.7" y1="703.1" x2="419.5" y2="782.5" stroke-width="0.6"/>
<line x1="523.3" y1="704.2" x2="461.5" y2="783.9" stroke-width="0.6"/>
<line x1="529.7" y1="703.1" x2="461.5" y2="783.9" stroke-width="0.6"/>
<line x1="523.3" y1="704.2" x2="435.7" y2="789.7" stroke-width="0.6"/>
<line x1="529.7" y1="703.1" x2="435.7" y2="789.7" stroke-width="0.6"/>
<line x1="523.3" y1="704.2" x2="469" y2="806.5" stroke-width="0.6"/>
<line x1="529.7" y1="703.1" x2="469" y2="806.5" stroke-width="0.6"/>
<line x1="523.3" y1="704.2" x2="443.8" y2="819.4" stroke-width="0.6"/>
<line x1="529.7" y1="703.1" x2="443.8" y2="819.4" stroke-width="0.6"/>
</g>
<circle cx="499.5" cy="547.2" r="7.6" fill="#1AB3B8"/>
<circle cx="511.3" cy="570.2" r="7.6" fill="#A88C00"/>
<circle cx="476.7" cy="572.5" r="7.6" fill="#A88C00"/>
<circle cx="447.2" cy="579.2" r="7.6" fill="#EE48DD"/>
<circle cx="414.7" cy="591.5" r="7.6" fill="#1DB233"/>
<circle cx="434.3" cy="604.9" r="7.6" fill="#EE48DD"/>
<circle cx="480.8" cy="608.4" r="7.6" fill="#A88C00"/>
<circle cx="419.8" cy="627.2" r="7.6" fill="#EE48DD"/>
<circle cx="470.2" cy="641.7" r="7.6" fill="#A88C00"/>
<circle cx="390" cy="664.2" r="7.6" fill="#EE48DD"/>
<circle cx="547.2" cy="571" r="7.6" fill="#1AB3B8"/>
<circle cx="567.2" cy="562.7" r="7.6" fill="#1DB233"/>
<circle cx="591.3" cy="566.4" r="7.6" fill="#1AB3B8"/>
<circle cx="606" cy="581.5" r="7.6" fill="#1AB3B8"/>
<circle cx="621" cy="604.9" r="7.6" fill="#1DB233"/>
<circle cx="546.7" cy="620.4" r="7.6" fill="#1AB3B8"/>
<circle cx="569.5" cy="620.4" r="7.6" fill="#1AB3B8"/>
<circle cx="593.8" cy="625.9" r="7.6" fill="#1AB3B8"/>
<circle cx="640.7" cy="624.5" r="7.6" fill="#1AB3B8"/>
<circle cx="613.7" cy="635.9" r="7.6" fill="#1AB3B8"/>
<circle cx="636.7" cy="660.2" r="7.6" fill="#1AB3B8"/>
<circle cx="523.3" cy="704.2" r="7.6" fill="#F0605A"/>
<circle cx="529.7" cy="703.1" r="7.6" fill="#F0605A"/>
<circle cx="582.2" cy="683" r="7.6" fill="#F0605A"/>
<circle cx="576.3" cy="707.9" r="7.6" fill="#F0605A"/>
<circle cx="600.3" cy="713.2" r="7.6" fill="#F0605A"/>
<circle cx="566.2" cy="738.4" r="7.6" fill="#F0605A"/>
<circle cx="542.6" cy="753.9" r="7.6" fill="#F0605A"/>
<circle cx="619.7" cy="770.5" r="7.6" fill="#A88C00"/>
<circle cx="641" cy="771.2" r="7.6" fill="#1DB233"/>
<circle cx="596" cy="781.2" r="7.6" fill="#A88C00"/>
<circle cx="566.8" cy="794.2" r="7.6" fill="#A88C00"/>
<circle cx="622.6" cy="795.5" r="7.6" fill="#EE48DD"/>
<circle cx="597.8" cy="805.5" r="7.6" fill="#A88C00"/>
<circle cx="545.3" cy="816.7" r="7.6" fill="#EE48DD"/>
<circle cx="574.8" cy="818.9" r="7.6" fill="#A88C00"/>
<circle cx="626.4" cy="818.6" r="7.6" fill="#A88C00"/>
<circle cx="610.5" cy="829.2" r="7.6" fill="#A88C00"/>
<circle cx="561.3" cy="843.9" r="7.6" fill="#A88C00"/>
<circle cx="596.5" cy="842.5" r="7.6" fill="#EE48DD"/>
<circle cx="578.2" cy="857.5" r="7.6" fill="#A88C00"/>
<circle cx="421.5" cy="712.7" r="7.6" fill="#5287FA"/>
<circle cx="450.3" cy="712.7" r="7.6" fill="#5287FA"/>
<circle cx="404.2" cy="740.2" r="7.6" fill="#EE48DD"/>
<circle cx="451.5" cy="736.9" r="7.6" fill="#1AB3B8"/>
<circle cx="424.5" cy="745.9" r="7.6" fill="#5287FA"/>
<circle cx="465" cy="750.7" r="7.6" fill="#EE48DD"/>
<circle cx="405.8" cy="767.2" r="7.6" fill="#EE48DD"/>
<circle cx="434.7" cy="765.2" r="7.6" fill="#EE48DD"/>
<circle cx="419.5" cy="782.5" r="7.6" fill="#5287FA"/>
<circle cx="461.5" cy="783.9" r="7.6" fill="#1AB3B8"/>
<circle cx="435.7" cy="789.7" r="7.6" fill="#1AB3B8"/>
<circle cx="469" cy="806.5" r="7.6" fill="#5287FA"/>
<circle cx="443.8" cy="819.4" r="7.6" fill="#1DB233"/>
<text x="482.63" y="517.8" font-size="27" font-weight="bold" textLength="65.01" lengthAdjust="spacingAndGlyphs">Friday</text>
</g>
<g>
<g stroke="#000" stroke-opacity="0.2" stroke-linecap="butt">
<line x1="790.3" y1="547.2" x2="802.1" y2="570.2" stroke-width="0.6"/>
<line x1="802.1" y1="570.2" x2="767.5" y2="572.5" stroke-width="0.6"/>
<line x1="802.1" y1="570.2" x2="837.5" y2="620.4" stroke-width="0.6"/>
<line x1="767.5" y1="572.5" x2="761" y2="641.7" stroke-width="5"/>
<line x1="802.1" y1="570.2" x2="761" y2="641.7" stroke-width="5"/>
<line x1="802.1" y1="570.2" x2="761" y2="641.7" stroke-width="0.6"/>
<line x1="738" y1="579.2" x2="705.5" y2="591.5" stroke-width="2.5"/>
<line x1="738" y1="579.2" x2="725.1" y2="604.9" stroke-width="5"/>
<line x1="738" y1="579.2" x2="725.1" y2="604.9" stroke-width="3"/>
<line x1="738" y1="579.2" x2="725.1" y2="604.9" stroke-width="2"/>
<line x1="738" y1="579.2" x2="710.6" y2="627.2" stroke-width="3"/>
<line x1="725.1" y1="604.9" x2="710.6" y2="627.2" stroke-width="28"/>
<line x1="725.1" y1="604.9" x2="710.6" y2="627.2" stroke-width="5"/>
<line x1="725.1" y1="604.9" x2="710.6" y2="627.2" stroke-width="3"/>
<line x1="725.1" y1="604.9" x2="710.6" y2="627.2" stroke-width="2"/>
<line x1="705.5" y1="591.5" x2="710.6" y2="627.2" stroke-width="14"/>
<line x1="705.5" y1="591.5" x2="725.1" y2="604.9" stroke-width="2"/>
<line x1="738" y1="579.2" x2="710.6" y2="627.2" stroke-width="2"/>
<line x1="838" y1="571" x2="896.8" y2="581.5" stroke-width="2.5"/>
<line x1="858" y1="562.7" x2="896.8" y2="581.5" stroke-width="2.5"/>
<line x1="882.1" y1="566.4" x2="896.8" y2="581.5" stroke-width="1.5"/>
<line x1="896.8" y1="581.5" x2="837.5" y2="620.4" stroke-width="2.5"/>
<line x1="896.8" y1="581.5" x2="860.3" y2="620.4" stroke-width="2.5"/>
<line x1="896.8" y1="581.5" x2="884.6" y2="625.9" stroke-width="2.5"/>
<line x1="896.8" y1="581.5" x2="911.8" y2="604.9" stroke-width="2.5"/>
<line x1="911.8" y1="604.9" x2="931.5" y2="624.5" stroke-width="2.5"/>
<line x1="820.5" y1="703.1" x2="873" y2="683" stroke-width="5"/>
<line x1="820.5" y1="703.1" x2="867.1" y2="707.9" stroke-width="3"/>
<line x1="820.5" y1="703.1" x2="891.1" y2="713.2" stroke-width="3"/>
<line x1="867.1" y1="707.9" x2="891.1" y2="713.2" stroke-width="2"/>
<line x1="814.1" y1="704.2" x2="857" y2="738.4" stroke-width="5"/>
<line x1="814.1" y1="704.2" x2="833.4" y2="753.9" stroke-width="5"/>
<line x1="873" y1="683" x2="867.1" y2="707.9" stroke-width="0.6"/>
<line x1="873" y1="683" x2="891.1" y2="713.2" stroke-width="0.6"/>
<line x1="891.1" y1="713.2" x2="857" y2="738.4" stroke-width="0.6"/>
<line x1="867.1" y1="707.9" x2="857" y2="738.4" stroke-width="0.6"/>
<line x1="867.1" y1="707.9" x2="833.4" y2="753.9" stroke-width="0.6"/>
<line x1="857" y1="738.4" x2="833.4" y2="753.9" stroke-width="0.6"/>
<line x1="741.1" y1="712.7" x2="814.1" y2="704.2" stroke-width="0.6"/>
<line x1="712.3" y1="712.7" x2="715.3" y2="745.9" stroke-width="3"/>
<line x1="741.1" y1="712.7" x2="725.5" y2="765.2" stroke-width="3"/>
<line x1="741.1" y1="712.7" x2="742.3" y2="736.9" stroke-width="2"/>
<line x1="715.3" y1="745.9" x2="755.8" y2="750.7" stroke-width="3"/>
<line x1="715.3" y1="745.9" x2="755.8" y2="750.7" stroke-width="1.5"/>
<line x1="695" y1="740.2" x2="710.3" y2="782.5" stroke-width="3"/>
<line x1="710.3" y1="782.5" x2="734.6" y2="819.4" stroke-width="4"/>
<line x1="726.5" y1="789.7" x2="759.8" y2="806.5" stroke-width="3"/>
<line x1="755.8" y1="750.7" x2="734.6" y2="819.4" stroke-width="3"/>
<line x1="755.8" y1="750.7" x2="725.5" y2="765.2" stroke-width="4"/>
<line x1="755.8" y1="750.7" x2="726.5" y2="789.7" stroke-width="2"/>
<line x1="695" y1="740.2" x2="725.5" y2="765.2" stroke-width="1.5"/>
<line x1="696.6" y1="767.2" x2="726.5" y2="789.7" stroke-width="2"/>
<line x1="696.6" y1="767.2" x2="710.3" y2="782.5" stroke-width="2"/>
<line x1="725.5" y1="765.2" x2="710.3" y2="782.5" stroke-width="1.5"/>
<line x1="715.3" y1="745.9" x2="726.5" y2="789.7" stroke-width="1.5"/>
<line x1="715.3" y1="745.9" x2="710.3" y2="782.5" stroke-width="1.5"/>
<line x1="695" y1="740.2" x2="726.5" y2="789.7" stroke-width="1.5"/>
<line x1="696.6" y1="767.2" x2="725.5" y2="765.2" stroke-width="1.5"/>
<line x1="742.3" y1="736.9" x2="726.5" y2="789.7" stroke-width="1.5"/>
<line x1="725.5" y1="765.2" x2="734.6" y2="819.4" stroke-width="1.5"/>
<line x1="726.5" y1="789.7" x2="734.6" y2="819.4" stroke-width="2"/>
<line x1="752.3" y1="783.9" x2="726.5" y2="789.7" stroke-width="1.5"/>
<line x1="742.3" y1="736.9" x2="715.3" y2="745.9" stroke-width="2"/>
<line x1="715.3" y1="745.9" x2="725.5" y2="765.2" stroke-width="2"/>
<line x1="712.3" y1="712.7" x2="741.1" y2="712.7" stroke-width="0.48"/>
<line x1="712.3" y1="712.7" x2="695" y2="740.2" stroke-width="0.48"/>
<line x1="712.3" y1="712.7" x2="742.3" y2="736.9" stroke-width="0.48"/>
<line x1="712.3" y1="712.7" x2="715.3" y2="745.9" stroke-width="0.48"/>
<line x1="712.3" y1="712.7" x2="755.8" y2="750.7" stroke-width="0.48"/>
<line x1="712.3" y1="712.7" x2="696.6" y2="767.2" stroke-width="0.48"/>
<line x1="712.3" y1="712.7" x2="725.5" y2="765.2" stroke-width="0.48"/>
<line x1="712.3" y1="712.7" x2="710.3" y2="782.5" stroke-width="0.48"/>
<line x1="712.3" y1="712.7" x2="752.3" y2="783.9" stroke-width="0.48"/>
<line x1="712.3" y1="712.7" x2="726.5" y2="789.7" stroke-width="0.48"/>
<line x1="712.3" y1="712.7" x2="759.8" y2="806.5" stroke-width="0.48"/>
<line x1="712.3" y1="712.7" x2="734.6" y2="819.4" stroke-width="0.48"/>
<line x1="741.1" y1="712.7" x2="695" y2="740.2" stroke-width="0.48"/>
<line x1="741.1" y1="712.7" x2="742.3" y2="736.9" stroke-width="0.48"/>
<line x1="741.1" y1="712.7" x2="715.3" y2="745.9" stroke-width="0.48"/>
<line x1="741.1" y1="712.7" x2="755.8" y2="750.7" stroke-width="0.48"/>
<line x1="741.1" y1="712.7" x2="696.6" y2="767.2" stroke-width="0.48"/>
<line x1="741.1" y1="712.7" x2="725.5" y2="765.2" stroke-width="0.48"/>
<line x1="741.1" y1="712.7" x2="710.3" y2="782.5" stroke-width="0.48"/>
<line x1="741.1" y1="712.7" x2="752.3" y2="783.9" stroke-width="0.48"/>
<line x1="741.1" y1="712.7" x2="726.5" y2="789.7" stroke-width="0.48"/>
<line x1="741.1" y1="712.7" x2="759.8" y2="806.5" stroke-width="0.48"/>
<line x1="741.1" y1="712.7" x2="734.6" y2="819.4" stroke-width="0.48"/>
<line x1="695" y1="740.2" x2="742.3" y2="736.9" stroke-width="0.48"/>
<line x1="695" y1="740.2" x2="715.3" y2="745.9" stroke-width="0.48"/>
<line x1="695" y1="740.2" x2="755.8" y2="750.7" stroke-width="0.48"/>
<line x1="695" y1="740.2" x2="696.6" y2="767.2" stroke-width="0.48"/>
<line x1="695" y1="740.2" x2="725.5" y2="765.2" stroke-width="0.48"/>
<line x1="695" y1="740.2" x2="710.3" y2="782.5" stroke-width="0.48"/>
<line x1="695" y1="740.2" x2="752.3" y2="783.9" stroke-width="0.48"/>
<line x1="695" y1="740.2" x2="726.5" y2="789.7" stroke-width="0.48"/>
<line x1="695" y1="740.2" x2="759.8" y2="806.5" stroke-width="0.48"/>
<line x1="695" y1="740.2" x2="734.6" y2="819.4" stroke-width="0.48"/>
<line x1="742.3" y1="736.9" x2="715.3" y2="745.9" stroke-width="0.48"/>
<line x1="742.3" y1="736.9" x2="755.8" y2="750.7" stroke-width="0.48"/>
<line x1="742.3" y1="736.9" x2="696.6" y2="767.2" stroke-width="0.48"/>
<line x1="742.3" y1="736.9" x2="725.5" y2="765.2" stroke-width="0.48"/>
<line x1="742.3" y1="736.9" x2="710.3" y2="782.5" stroke-width="0.48"/>
<line x1="742.3" y1="736.9" x2="752.3" y2="783.9" stroke-width="0.48"/>
<line x1="742.3" y1="736.9" x2="726.5" y2="789.7" stroke-width="0.48"/>
<line x1="742.3" y1="736.9" x2="759.8" y2="806.5" stroke-width="0.48"/>
<line x1="742.3" y1="736.9" x2="734.6" y2="819.4" stroke-width="0.48"/>
<line x1="715.3" y1="745.9" x2="755.8" y2="750.7" stroke-width="0.48"/>
<line x1="715.3" y1="745.9" x2="696.6" y2="767.2" stroke-width="0.48"/>
<line x1="715.3" y1="745.9" x2="725.5" y2="765.2" stroke-width="0.48"/>
<line x1="715.3" y1="745.9" x2="710.3" y2="782.5" stroke-width="0.48"/>
<line x1="715.3" y1="745.9" x2="752.3" y2="783.9" stroke-width="0.48"/>
<line x1="715.3" y1="745.9" x2="726.5" y2="789.7" stroke-width="0.48"/>
<line x1="715.3" y1="745.9" x2="759.8" y2="806.5" stroke-width="0.48"/>
<line x1="715.3" y1="745.9" x2="734.6" y2="819.4" stroke-width="0.48"/>
<line x1="755.8" y1="750.7" x2="696.6" y2="767.2" stroke-width="0.48"/>
<line x1="755.8" y1="750.7" x2="725.5" y2="765.2" stroke-width="0.48"/>
<line x1="755.8" y1="750.7" x2="710.3" y2="782.5" stroke-width="0.48"/>
<line x1="755.8" y1="750.7" x2="752.3" y2="783.9" stroke-width="0.48"/>
<line x1="755.8" y1="750.7" x2="726.5" y2="789.7" stroke-width="0.48"/>
<line x1="755.8" y1="750.7" x2="759.8" y2="806.5" stroke-width="0.48"/>
<line x1="755.8" y1="750.7" x2="734.6" y2="819.4" stroke-width="0.48"/>
<line x1="696.6" y1="767.2" x2="725.5" y2="765.2" stroke-width="0.48"/>
<line x1="696.6" y1="767.2" x2="710.3" y2="782.5" stroke-width="0.48"/>
<line x1="696.6" y1="767.2" x2="752.3" y2="783.9" stroke-width="0.48"/>
<line x1="696.6" y1="767.2" x2="726.5" y2="789.7" stroke-width="0.48"/>
<line x1="696.6" y1="767.2" x2="759.8" y2="806.5" stroke-width="0.48"/>
<line x1="696.6" y1="767.2" x2="734.6" y2="819.4" stroke-width="0.48"/>
<line x1="725.5" y1="765.2" x2="710.3" y2="782.5" stroke-width="0.48"/>
<line x1="725.5" y1="765.2" x2="752.3" y2="783.9" stroke-width="0.48"/>
<line x1="725.5" y1="765.2" x2="726.5" y2="789.7" stroke-width="0.48"/>
<line x1="725.5" y1="765.2" x2="759.8" y2="806.5" stroke-width="0.48"/>
<line x1="725.5" y1="765.2" x2="734.6" y2="819.4" stroke-width="0.48"/>
<line x1="710.3" y1="782.5" x2="752.3" y2="783.9" stroke-width="0.48"/>
<line x1="710.3" y1="782.5" x2="726.5" y2="789.7" stroke-width="0.48"/>
<line x1="710.3" y1="782.5" x2="759.8" y2="806.5" stroke-width="0.48"/>
<line x1="710.3" y1="782.5" x2="734.6" y2="819.4" stroke-width="0.48"/>
<line x1="752.3" y1="783.9" x2="726.5" y2="789.7" stroke-width="0.48"/>
<line x1="752.3" y1="783.9" x2="759.8" y2="806.5" stroke-width="0.48"/>
<line x1="752.3" y1="783.9" x2="734.6" y2="819.4" stroke-width="0.48"/>
<line x1="726.5" y1="789.7" x2="759.8" y2="806.5" stroke-width="0.48"/>
<line x1="726.5" y1="789.7" x2="734.6" y2="819.4" stroke-width="0.48"/>
<line x1="759.8" y1="806.5" x2="734.6" y2="819.4" stroke-width="0.48"/>
<line x1="931.8" y1="771.2" x2="910.5" y2="770.5" stroke-width="1.5"/>
<line x1="931.8" y1="771.2" x2="886.8" y2="781.2" stroke-width="1.5"/>
<line x1="931.8" y1="771.2" x2="913.4" y2="795.5" stroke-width="1.5"/>
<line x1="931.8" y1="771.2" x2="888.6" y2="805.5" stroke-width="1.5"/>
<line x1="931.8" y1="771.2" x2="865.6" y2="818.9" stroke-width="1.5"/>
<line x1="931.8" y1="771.2" x2="917.2" y2="818.6" stroke-width="1.5"/>
<line x1="931.8" y1="771.2" x2="901.3" y2="829.2" stroke-width="1.5"/>
<line x1="931.8" y1="771.2" x2="887.3" y2="842.5" stroke-width="1.5"/>
<line x1="910.5" y1="770.5" x2="931.8" y2="771.2" stroke-width="3"/>
<line x1="836.1" y1="816.7" x2="886.8" y2="781.2" stroke-width="4"/>
<line x1="886.8" y1="781.2" x2="910.5" y2="770.5" stroke-width="3"/>
<line x1="857.6" y1="794.2" x2="886.8" y2="781.2" stroke-width="2.5"/>
<line x1="857.6" y1="794.2" x2="910.5" y2="770.5" stroke-width="2.5"/>
<line x1="865.6" y1="818.9" x2="901.3" y2="829.2" stroke-width="2.5"/>
<line x1="865.6" y1="818.9" x2="917.2" y2="818.6" stroke-width="2"/>
<line x1="888.6" y1="805.5" x2="886.8" y2="781.2" stroke-width="1.5"/>
<line x1="888.6" y1="805.5" x2="913.4" y2="795.5" stroke-width="1.5"/>
<line x1="836.1" y1="816.7" x2="852.1" y2="843.9" stroke-width="0.6"/>
<line x1="836.1" y1="816.7" x2="865.6" y2="818.9" stroke-width="0.6"/>
<line x1="852.1" y1="843.9" x2="869" y2="857.5" stroke-width="0.6"/>
<line x1="869" y1="857.5" x2="886.8" y2="781.2" stroke-width="0.6"/>
<line x1="869" y1="857.5" x2="913.4" y2="795.5" stroke-width="0.6"/>
<line x1="869" y1="857.5" x2="888.6" y2="805.5" stroke-width="0.6"/>
<line x1="869" y1="857.5" x2="865.6" y2="818.9" stroke-width="0.6"/>
<line x1="869" y1="857.5" x2="901.3" y2="829.2" stroke-width="0.6"/>
<line x1="869" y1="857.5" x2="887.3" y2="842.5" stroke-width="0.6"/>
</g>
<circle cx="790.3" cy="547.2" r="7.6" fill="#1AB3B8"/>
<circle cx="802.1" cy="570.2" r="7.6" fill="#A88C00"/>
<circle cx="767.5" cy="572.5" r="7.6" fill="#A88C00"/>
<circle cx="738" cy="579.2" r="7.6" fill="#EE48DD"/>
<circle cx="705.5" cy="591.5" r="7.6" fill="#1DB233"/>
<circle cx="725.1" cy="604.9" r="7.6" fill="#EE48DD"/>
<circle cx="771.6" cy="608.4" r="7.6" fill="#A88C00"/>
<circle cx="710.6" cy="627.2" r="7.6" fill="#EE48DD"/>
<circle cx="761" cy="641.7" r="7.6" fill="#A88C00"/>
<circle cx="680.8" cy="664.2" r="7.6" fill="#EE48DD"/>
<circle cx="838" cy="571" r="7.6" fill="#1AB3B8"/>
<circle cx="858" cy="562.7" r="7.6" fill="#1DB233"/>
<circle cx="882.1" cy="566.4" r="7.6" fill="#1AB3B8"/>
<circle cx="896.8" cy="581.5" r="7.6" fill="#1AB3B8"/>
<circle cx="911.8" cy="604.9" r="7.6" fill="#1DB233"/>
<circle cx="837.5" cy="620.4" r="7.6" fill="#1AB3B8"/>
<circle cx="860.3" cy="620.4" r="7.6" fill="#1AB3B8"/>
<circle cx="884.6" cy="625.9" r="7.6" fill="#1AB3B8"/>
<circle cx="931.5" cy="624.5" r="7.6" fill="#1AB3B8"/>
<circle cx="904.5" cy="635.9" r="7.6" fill="#1AB3B8"/>
<circle cx="927.5" cy="660.2" r="7.6" fill="#1AB3B8"/>
<circle cx="814.1" cy="704.2" r="7.6" fill="#F0605A"/>
<circle cx="820.5" cy="703.1" r="7.6" fill="#F0605A"/>
<circle cx="873" cy="683" r="7.6" fill="#F0605A"/>
<circle cx="867.1" cy="707.9" r="7.6" fill="#F0605A"/>
<circle cx="891.1" cy="713.2" r="7.6" fill="#F0605A"/>
<circle cx="857" cy="738.4" r="7.6" fill="#F0605A"/>
<circle cx="833.4" cy="753.9" r="7.6" fill="#F0605A"/>
<circle cx="910.5" cy="770.5" r="7.6" fill="#A88C00"/>
<circle cx="931.8" cy="771.2" r="7.6" fill="#1DB233"/>
<circle cx="886.8" cy="781.2" r="7.6" fill="#A88C00"/>
<circle cx="857.6" cy="794.2" r="7.6" fill="#A88C00"/>
<circle cx="913.4" cy="795.5" r="7.6" fill="#EE48DD"/>
<circle cx="888.6" cy="805.5" r="7.6" fill="#A88C00"/>
<circle cx="836.1" cy="816.7" r="7.6" fill="#EE48DD"/>
<circle cx="865.6" cy="818.9" r="7.6" fill="#A88C00"/>
<circle cx="917.2" cy="818.6" r="7.6" fill="#A88C00"/>
<circle cx="901.3" cy="829.2" r="7.6" fill="#A88C00"/>
<circle cx="852.1" cy="843.9" r="7.6" fill="#A88C00"/>
<circle cx="887.3" cy="842.5" r="7.6" fill="#EE48DD"/>
<circle cx="869" cy="857.5" r="7.6" fill="#A88C00"/>
<circle cx="712.3" cy="712.7" r="7.6" fill="#5287FA"/>
<circle cx="741.1" cy="712.7" r="7.6" fill="#5287FA"/>
<circle cx="695" cy="740.2" r="7.6" fill="#EE48DD"/>
<circle cx="742.3" cy="736.9" r="7.6" fill="#1AB3B8"/>
<circle cx="715.3" cy="745.9" r="7.6" fill="#5287FA"/>
<circle cx="755.8" cy="750.7" r="7.6" fill="#EE48DD"/>
<circle cx="696.6" cy="767.2" r="7.6" fill="#EE48DD"/>
<circle cx="725.5" cy="765.2" r="7.6" fill="#EE48DD"/>
<circle cx="710.3" cy="782.5" r="7.6" fill="#5287FA"/>
<circle cx="752.3" cy="783.9" r="7.6" fill="#1AB3B8"/>
<circle cx="726.5" cy="789.7" r="7.6" fill="#1AB3B8"/>
<circle cx="759.8" cy="806.5" r="7.6" fill="#5287FA"/>
<circle cx="734.6" cy="819.4" r="7.6" fill="#1DB233"/>
<text x="759.44" y="517.9" font-size="27" font-weight="bold" textLength="92.4" lengthAdjust="spacingAndGlyphs">Saturday</text>
</g>
<text x="986.88" y="200.9" font-size="30" textLength="126.19" lengthAdjust="spacingAndGlyphs">Department</text>
<circle cx="1011" cy="241" r="7.6" fill="#F0605A"/>
<text x="1048.25" y="250" font-size="24.3" textLength="122.06" lengthAdjust="spacingAndGlyphs">Administration</text>
<circle cx="1011" cy="287" r="7.6" fill="#A88C00"/>
<text x="1048.43" y="296.1" font-size="24.3" textLength="102.86" lengthAdjust="spacingAndGlyphs">Engineering</text>
<circle cx="1011" cy="333" r="7.6" fill="#1DB233"/>
<text x="1048.34" y="341.8" font-size="24.3" textLength="83.18" lengthAdjust="spacingAndGlyphs">Executive</text>
<circle cx="1011" cy="379" r="7.6" fill="#1AB3B8"/>
<text x="1048.68" y="387.75" font-size="24.3" textLength="74.04" lengthAdjust="spacingAndGlyphs">Facilities</text>
<circle cx="1011" cy="425" r="7.6" fill="#5287FA"/>
<text x="1048.12" y="433.9" font-size="24.3" textLength="201.11" lengthAdjust="spacingAndGlyphs">Information Technology</text>
<circle cx="1011" cy="471" r="7.6" fill="#EE48DD"/>
<text x="1048.72" y="479.8" font-size="24.3" textLength="68.38" lengthAdjust="spacingAndGlyphs">Security</text>
<text x="987.8" y="576.8" font-size="30" textLength="75.22" lengthAdjust="spacingAndGlyphs">Weight</text>
<rect x="992.6" y="616.75" width="36.6" height="1.5" fill="#000" fill-opacity="0.2"/>
<text x="1048.42" y="626" font-size="24.3" textLength="26.45" lengthAdjust="spacingAndGlyphs">2.5</text>
<rect x="992.6" y="659.3" width="36.6" height="8.4" fill="#000" fill-opacity="0.2"/>
<text x="1048.36" y="672.2" font-size="24.3" textLength="26.56" lengthAdjust="spacingAndGlyphs">5.0</text>
<rect x="992.6" y="702.2" width="36.6" height="14.6" fill="#000" fill-opacity="0.2"/>
<text x="1048.39" y="718.5" font-size="24.3" textLength="26.62" lengthAdjust="spacingAndGlyphs">7.5</text>
<rect x="992.6" y="745.15" width="36.6" height="20.7" fill="#000" fill-opacity="0.2"/>
<text x="1048.74" y="764.7" font-size="24.3" textLength="36.66" lengthAdjust="spacingAndGlyphs">10.0</text>
<rect x="992.6" y="788.05" width="36.6" height="27.1" fill="#000" fill-opacity="0.2"/>
<text x="1048.74" y="810.8" font-size="24.3" textLength="36.75" lengthAdjust="spacingAndGlyphs">12.5</text>
</svg></body></html>
